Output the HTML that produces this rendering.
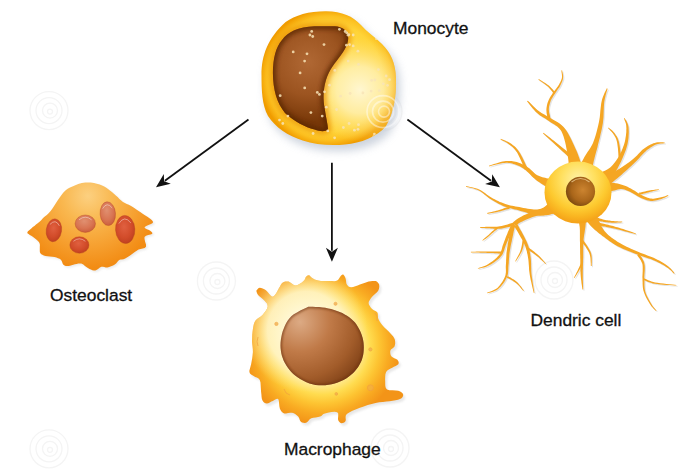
<!DOCTYPE html>
<html><head><meta charset="utf-8"><style>
html,body{margin:0;padding:0;background:#fff;}
body{width:687px;height:470px;overflow:hidden;position:relative;}
svg{position:absolute;left:0;top:0;}
.t{font-family:"Liberation Sans",sans-serif;font-size:17.4px;fill:#111;stroke:#111;stroke-width:0.3;}
</style></head><body>
<svg width="687" height="470" viewBox="0 0 687 470">
<defs>
<filter id="blur2" x="-20%" y="-20%" width="140%" height="140%"><feGaussianBlur stdDeviation="2"/></filter>
<filter id="blur1" x="-20%" y="-20%" width="140%" height="140%"><feGaussianBlur stdDeviation="1"/></filter>
<filter id="blur4" x="-30%" y="-30%" width="160%" height="160%"><feGaussianBlur stdDeviation="4"/></filter>
<radialGradient id="gMono" gradientUnits="userSpaceOnUse" cx="329" cy="78" r="69">
 <stop offset="0" stop-color="#ffe468"/><stop offset="0.78" stop-color="#ffd438"/><stop offset="0.9" stop-color="#fcc020"/><stop offset="0.97" stop-color="#f5a80a"/><stop offset="1" stop-color="#f09c00"/>
</radialGradient>
<radialGradient id="gMonoPale" gradientUnits="userSpaceOnUse" cx="360" cy="90" r="52">
 <stop offset="0" stop-color="#fff8d8" stop-opacity="0.95"/><stop offset="0.45" stop-color="#fff2b8" stop-opacity="0.8"/><stop offset="1" stop-color="#ffe070" stop-opacity="0"/>
</radialGradient>
<radialGradient id="gMonoNuc" gradientUnits="userSpaceOnUse" cx="308" cy="62" r="60">
 <stop offset="0" stop-color="#b06834"/><stop offset="0.55" stop-color="#9c5420"/><stop offset="1" stop-color="#783808"/>
</radialGradient>
<radialGradient id="gMac" gradientUnits="userSpaceOnUse" cx="322" cy="346" r="78">
 <stop offset="0.5" stop-color="#ffea90"/><stop offset="0.62" stop-color="#ffdc50"/><stop offset="0.74" stop-color="#fdc432"/><stop offset="0.86" stop-color="#f9ab22"/><stop offset="1" stop-color="#f39418"/>
</radialGradient>
<radialGradient id="gMacPale" gradientUnits="userSpaceOnUse" cx="306" cy="330" r="62">
 <stop offset="0" stop-color="#fffbe8" stop-opacity="1"/><stop offset="0.62" stop-color="#fff5c8" stop-opacity="0.9"/><stop offset="1" stop-color="#ffe890" stop-opacity="0"/>
</radialGradient>
<radialGradient id="gMacNuc" gradientUnits="userSpaceOnUse" cx="300" cy="322" r="75">
 <stop offset="0" stop-color="#dcaa84"/><stop offset="0.4" stop-color="#c07a48"/><stop offset="0.75" stop-color="#a25c2a"/><stop offset="1" stop-color="#7e4016"/>
</radialGradient>
<radialGradient id="gOst" gradientUnits="userSpaceOnUse" cx="88" cy="196" r="72">
 <stop offset="0" stop-color="#fcd080"/><stop offset="0.35" stop-color="#f9b850"/><stop offset="0.7" stop-color="#f6a030"/><stop offset="1" stop-color="#f28c14"/>
</radialGradient>
<radialGradient id="gOn" cx="0.45" cy="0.4" r="0.65">
 <stop offset="0" stop-color="#e06040"/><stop offset="0.6" stop-color="#d24c2a"/><stop offset="1" stop-color="#bc3e1e"/>
</radialGradient>
<radialGradient id="gOn2" cx="0.45" cy="0.35" r="0.7">
 <stop offset="0" stop-color="#e09070"/><stop offset="0.6" stop-color="#d87452"/><stop offset="1" stop-color="#c85a38"/>
</radialGradient>
<radialGradient id="gDc" gradientUnits="userSpaceOnUse" cx="578" cy="180" r="42">
 <stop offset="0" stop-color="#fff2a8"/><stop offset="0.4" stop-color="#ffe060"/><stop offset="0.7" stop-color="#fdca30"/><stop offset="0.88" stop-color="#f9b420"/><stop offset="1" stop-color="#f5a41a"/>
</radialGradient>
<radialGradient id="gDcNuc" cx="0.58" cy="0.45" r="0.65">
 <stop offset="0" stop-color="#cc8430"/><stop offset="0.6" stop-color="#aa661a"/><stop offset="1" stop-color="#70420c"/>
</radialGradient>
<clipPath id="cMonoNuc"><path d="M272.9,73 C273,58 276,47 282,40 C288,32 298,27 314.6,26.3 L335,26.3 C342,27 347,30 348,36 C349,42 346,48 341,55 C335,63 329,70 326,80 C323,90 323,100 324.8,109 C326,118 328,125 328,129.5 C325,132 320,131.5 314.6,129.5 C305,127 295,122 285,113 C277,103 273,90 272.9,73 Z"/></clipPath>
<clipPath id="cMono"><path d="M261.5,75 C261.5,55 268,38 285.6,22 C295,15 310,11 326.5,11.2 C342,11.5 353,16 361,25 C367,32 375,37 382,44 C391,53 395.5,63 396,78 C396.5,97 393.5,113 386,126 C377,137 361,143 345,144.5 C330,146 315,144.5 302.7,140.5 C288,136 275,127 268,116 C262,105 261.5,90 261.5,75 Z"/></clipPath>
<clipPath id="cMacNuc"><path d="M308.3,306.7 L310.1,306.8 L312.7,306.8 L315.7,306.9 L319.0,307.1 L322.3,307.4 L325.3,307.8 L328.2,308.4 L331.1,309.1 L334.1,309.9 L337.0,310.9 L339.7,311.9 L342.3,313.1 L344.7,314.4 L347.0,315.8 L349.2,317.2 L351.3,318.9 L353.2,320.7 L355.0,322.6 L356.6,324.8 L358.1,327.2 L359.5,329.7 L360.7,332.3 L361.7,335.0 L362.5,337.5 L363.1,340.0 L363.5,342.5 L363.7,345.1 L363.8,347.6 L363.7,350.0 L363.5,352.4 L363.2,354.7 L362.7,356.8 L362.1,358.9 L361.4,361.0 L360.4,363.1 L359.3,365.1 L358.0,367.2 L356.4,369.2 L354.8,371.3 L352.9,373.2 L350.8,375.1 L348.6,376.8 L346.2,378.4 L343.5,379.9 L340.6,381.3 L337.7,382.5 L334.6,383.5 L331.6,384.3 L328.5,384.8 L325.3,385.2 L322.1,385.3 L318.8,385.2 L315.6,384.9 L312.5,384.3 L309.5,383.4 L306.4,382.3 L303.5,380.8 L300.6,379.3 L297.9,377.6 L295.5,375.8 L293.3,373.9 L291.3,371.9 L289.4,369.8 L287.7,367.6 L286.2,365.3 L284.9,363.0 L283.7,360.7 L282.8,358.3 L281.9,355.8 L281.3,353.3 L280.9,350.7 L280.6,348.1 L280.5,345.4 L280.6,342.5 L280.9,339.6 L281.4,336.7 L282.0,333.8 L282.8,331.1 L283.8,328.4 L284.9,325.8 L286.1,323.2 L287.6,320.8 L289.3,318.4 L291.3,316.3 L293.8,314.3 L297.0,312.4 L300.3,310.6 L303.6,309.0 L306.4,307.7 L308.3,306.7Z"/></clipPath>
</defs>
<g fill="none" stroke="#f4f4f4" stroke-width="1.3"><circle cx="49" cy="110.6" r="19"/><circle cx="49" cy="110.6" r="13"/><circle cx="50" cy="110.6" r="7.5"/><circle cx="50" cy="111.6" r="2.5"/></g><g fill="none" stroke="#f4f4f4" stroke-width="1.3"><circle cx="216.4" cy="281" r="19"/><circle cx="216.4" cy="281" r="13"/><circle cx="217.4" cy="281" r="7.5"/><circle cx="217.4" cy="282" r="2.5"/></g><g fill="none" stroke="#f4f4f4" stroke-width="1.3"><circle cx="49" cy="448.8" r="19"/><circle cx="49" cy="448.8" r="13"/><circle cx="50" cy="448.8" r="7.5"/><circle cx="50" cy="449.8" r="2.5"/></g><g fill="none" stroke="#f4f4f4" stroke-width="1.3"><circle cx="383" cy="111.6" r="19"/><circle cx="383" cy="111.6" r="13"/><circle cx="384" cy="111.6" r="7.5"/><circle cx="384" cy="112.6" r="2.5"/></g><g fill="none" stroke="#f4f4f4" stroke-width="1.3"><circle cx="554" cy="280" r="19"/><circle cx="554" cy="280" r="13"/><circle cx="555" cy="280" r="7.5"/><circle cx="555" cy="281" r="2.5"/></g><g fill="none" stroke="#f4f4f4" stroke-width="1.3"><circle cx="390" cy="448" r="19"/><circle cx="390" cy="448" r="13"/><circle cx="391" cy="448" r="7.5"/><circle cx="391" cy="449" r="2.5"/></g>
<line x1="248.5" y1="119.6" x2="164.9" y2="180.7" stroke="#111" stroke-width="1.8"/><path d="M156,187.2 L163.8,174.1 L164.1,181.3 L170.8,183.8Z" fill="#111"/><line x1="331.9" y1="162.8" x2="331.9" y2="250.8" stroke="#111" stroke-width="1.8"/><path d="M331.9,261.8 L325.9,247.8 L331.9,251.8 L337.9,247.8Z" fill="#111"/><line x1="407.4" y1="119.4" x2="491.0" y2="180.8" stroke="#111" stroke-width="1.8"/><path d="M499.9,187.3 L485.1,183.9 L491.8,181.4 L492.2,174.2Z" fill="#111"/>
<!-- osteoclast -->
<path d="M27.7,231.6 L28.6,230.8 L29.8,229.7 L31.3,228.4 L32.8,227.1 L34.4,225.9 L36.0,224.5 L37.7,223.2 L39.2,222.0 L40.4,220.9 L41.4,219.9 L42.4,218.8 L43.6,217.6 L45.1,216.3 L46.8,214.9 L48.6,213.2 L50.6,211.0 L52.8,207.9 L55.2,204.2 L57.6,200.5 L59.7,197.4 L61.5,195.0 L63.0,193.1 L64.4,191.5 L66.0,190.0 L67.7,188.8 L69.5,187.8 L71.2,187.0 L73.0,186.2 L74.7,185.4 L76.5,184.7 L78.2,184.0 L80.0,183.5 L81.8,183.1 L83.6,182.8 L85.4,182.6 L87.2,182.5 L88.9,182.5 L90.6,182.5 L92.3,182.7 L94.0,183.0 L95.8,183.4 L97.8,183.9 L99.7,184.5 L101.5,185.2 L103.2,186.0 L104.7,186.8 L106.3,187.8 L108.0,189.0 L109.9,190.4 L111.9,192.0 L113.9,193.7 L115.8,195.4 L117.6,197.1 L119.4,198.9 L121.2,200.5 L123.0,202.0 L124.9,203.1 L126.8,203.9 L128.8,204.8 L131.1,206.0 L133.9,207.8 L137.1,209.9 L140.2,212.0 L143.0,213.9 L145.3,215.4 L147.4,216.8 L149.1,218.0 L150.5,219.1 L151.7,220.1 L152.6,221.0 L153.0,221.9 L152.7,222.9 L151.0,224.0 L148.4,225.1 L145.8,226.2 L144.5,227.3 L145.1,228.3 L146.9,229.2 L149.0,230.1 L150.5,231.0 L151.4,231.8 L152.1,232.5 L152.4,233.3 L152.0,234.0 L150.5,234.6 L148.2,235.1 L146.0,235.8 L144.5,237.0 L144.5,239.1 L145.2,241.9 L146.0,244.6 L146.0,246.7 L144.7,247.9 L142.7,248.6 L140.5,249.0 L138.6,249.6 L137.4,250.3 L136.4,250.9 L135.5,251.6 L134.1,252.6 L132.1,254.0 L129.7,255.7 L127.3,257.3 L125.2,258.6 L123.5,259.2 L121.9,259.5 L120.5,259.6 L119.2,260.1 L118.1,261.0 L117.1,262.2 L116.1,263.4 L114.8,264.5 L113.1,265.4 L111.1,266.3 L109.1,267.0 L107.3,267.5 L105.7,267.5 L104.3,267.1 L102.8,266.8 L101.4,266.8 L99.9,267.5 L98.4,268.7 L96.9,269.8 L95.4,270.5 L93.9,270.5 L92.4,270.2 L90.9,269.6 L89.5,269.0 L88.3,268.3 L87.1,267.6 L86.0,266.8 L85.0,266.0 L84.1,265.3 L83.3,264.5 L82.4,263.9 L81.3,263.5 L79.9,263.4 L78.3,263.6 L76.6,263.9 L74.9,264.2 L73.3,264.7 L71.6,265.3 L70.0,265.8 L68.5,266.1 L67.1,266.1 L65.7,265.9 L64.5,265.5 L63.4,264.8 L62.7,263.7 L62.2,262.3 L61.7,260.9 L60.9,259.7 L59.6,258.8 L58.1,258.2 L56.4,257.6 L54.5,257.1 L52.3,256.7 L49.9,256.5 L47.5,256.3 L45.5,255.9 L43.8,255.4 L42.4,254.8 L41.3,254.2 L40.4,253.3 L39.9,252.2 L39.8,250.9 L39.8,249.6 L39.8,248.2 L39.8,246.8 L39.9,245.4 L39.8,243.9 L39.2,242.5 L38.0,241.0 L36.3,239.4 L34.4,238.0 L32.8,236.7 L31.3,235.7 L29.8,234.9 L28.6,234.1 L27.7,233.5 L27.3,232.9 L27.4,232.3 L27.6,231.9 L27.7,231.6Z" fill="#ddd" transform="translate(1.5,1.5)" filter="url(#blur1)" opacity="0.6"/>
<path d="M27.7,231.6 L28.6,230.8 L29.8,229.7 L31.3,228.4 L32.8,227.1 L34.4,225.9 L36.0,224.5 L37.7,223.2 L39.2,222.0 L40.4,220.9 L41.4,219.9 L42.4,218.8 L43.6,217.6 L45.1,216.3 L46.8,214.9 L48.6,213.2 L50.6,211.0 L52.8,207.9 L55.2,204.2 L57.6,200.5 L59.7,197.4 L61.5,195.0 L63.0,193.1 L64.4,191.5 L66.0,190.0 L67.7,188.8 L69.5,187.8 L71.2,187.0 L73.0,186.2 L74.7,185.4 L76.5,184.7 L78.2,184.0 L80.0,183.5 L81.8,183.1 L83.6,182.8 L85.4,182.6 L87.2,182.5 L88.9,182.5 L90.6,182.5 L92.3,182.7 L94.0,183.0 L95.8,183.4 L97.8,183.9 L99.7,184.5 L101.5,185.2 L103.2,186.0 L104.7,186.8 L106.3,187.8 L108.0,189.0 L109.9,190.4 L111.9,192.0 L113.9,193.7 L115.8,195.4 L117.6,197.1 L119.4,198.9 L121.2,200.5 L123.0,202.0 L124.9,203.1 L126.8,203.9 L128.8,204.8 L131.1,206.0 L133.9,207.8 L137.1,209.9 L140.2,212.0 L143.0,213.9 L145.3,215.4 L147.4,216.8 L149.1,218.0 L150.5,219.1 L151.7,220.1 L152.6,221.0 L153.0,221.9 L152.7,222.9 L151.0,224.0 L148.4,225.1 L145.8,226.2 L144.5,227.3 L145.1,228.3 L146.9,229.2 L149.0,230.1 L150.5,231.0 L151.4,231.8 L152.1,232.5 L152.4,233.3 L152.0,234.0 L150.5,234.6 L148.2,235.1 L146.0,235.8 L144.5,237.0 L144.5,239.1 L145.2,241.9 L146.0,244.6 L146.0,246.7 L144.7,247.9 L142.7,248.6 L140.5,249.0 L138.6,249.6 L137.4,250.3 L136.4,250.9 L135.5,251.6 L134.1,252.6 L132.1,254.0 L129.7,255.7 L127.3,257.3 L125.2,258.6 L123.5,259.2 L121.9,259.5 L120.5,259.6 L119.2,260.1 L118.1,261.0 L117.1,262.2 L116.1,263.4 L114.8,264.5 L113.1,265.4 L111.1,266.3 L109.1,267.0 L107.3,267.5 L105.7,267.5 L104.3,267.1 L102.8,266.8 L101.4,266.8 L99.9,267.5 L98.4,268.7 L96.9,269.8 L95.4,270.5 L93.9,270.5 L92.4,270.2 L90.9,269.6 L89.5,269.0 L88.3,268.3 L87.1,267.6 L86.0,266.8 L85.0,266.0 L84.1,265.3 L83.3,264.5 L82.4,263.9 L81.3,263.5 L79.9,263.4 L78.3,263.6 L76.6,263.9 L74.9,264.2 L73.3,264.7 L71.6,265.3 L70.0,265.8 L68.5,266.1 L67.1,266.1 L65.7,265.9 L64.5,265.5 L63.4,264.8 L62.7,263.7 L62.2,262.3 L61.7,260.9 L60.9,259.7 L59.6,258.8 L58.1,258.2 L56.4,257.6 L54.5,257.1 L52.3,256.7 L49.9,256.5 L47.5,256.3 L45.5,255.9 L43.8,255.4 L42.4,254.8 L41.3,254.2 L40.4,253.3 L39.9,252.2 L39.8,250.9 L39.8,249.6 L39.8,248.2 L39.8,246.8 L39.9,245.4 L39.8,243.9 L39.2,242.5 L38.0,241.0 L36.3,239.4 L34.4,238.0 L32.8,236.7 L31.3,235.7 L29.8,234.9 L28.6,234.1 L27.7,233.5 L27.3,232.9 L27.4,232.3 L27.6,231.9 L27.7,231.6Z" fill="url(#gOst)"/>
<ellipse cx="53.9" cy="230.3" rx="7.7" ry="11.5" transform="rotate(8 53.9 230.3)" fill="url(#gOn)" stroke="#b04020" stroke-width="0.7" stroke-opacity="0.5"/><ellipse cx="85.3" cy="223.7" rx="10.2" ry="8.7" transform="rotate(0 85.3 223.7)" fill="url(#gOn2)" stroke="#b04020" stroke-width="0.7" stroke-opacity="0.5"/><ellipse cx="107.8" cy="213.7" rx="7.7" ry="11.9" transform="rotate(-4 107.8 213.7)" fill="url(#gOn2)" stroke="#b04020" stroke-width="0.7" stroke-opacity="0.5"/><ellipse cx="125.2" cy="229.5" rx="9.7" ry="14.1" transform="rotate(-3 125.2 229.5)" fill="url(#gOn)" stroke="#b04020" stroke-width="0.7" stroke-opacity="0.5"/><ellipse cx="79.4" cy="245.0" rx="9.6" ry="8.3" transform="rotate(0 79.4 245.0)" fill="url(#gOn)" stroke="#b04020" stroke-width="0.7" stroke-opacity="0.5"/>
<g><path d="M49.1,225.1 Q53.9,218.2 58.7,225.1" fill="none" stroke="#fff" stroke-width="0.9" opacity="0.45" transform="rotate(8 53.9 230.3)"/><path d="M79.0,219.8 Q85.3,214.6 91.6,219.8" fill="none" stroke="#fff" stroke-width="0.9" opacity="0.45" transform="rotate(0 85.3 223.7)"/><path d="M103.0,208.3 Q107.8,201.2 112.6,208.3" fill="none" stroke="#fff" stroke-width="0.9" opacity="0.45" transform="rotate(-4 107.8 213.7)"/><path d="M119.2,223.2 Q125.2,214.7 131.2,223.2" fill="none" stroke="#fff" stroke-width="0.9" opacity="0.45" transform="rotate(-3 125.2 229.5)"/><path d="M73.4,241.3 Q79.4,236.3 85.4,241.3" fill="none" stroke="#fff" stroke-width="0.9" opacity="0.45" transform="rotate(0 79.4 245.0)"/></g>
<!-- monocyte -->
<path d="M261.5,75 C261.5,55 268,38 285.6,22 C295,15 310,11 326.5,11.2 C342,11.5 353,16 361,25 C367,32 375,37 382,44 C391,53 395.5,63 396,78 C396.5,97 393.5,113 386,126 C377,137 361,143 345,144.5 C330,146 315,144.5 302.7,140.5 C288,136 275,127 268,116 C262,105 261.5,90 261.5,75 Z" fill="#c4ccd8" transform="translate(4,6)" filter="url(#blur4)" opacity="0.85"/>
<path d="M261.5,75 C261.5,55 268,38 285.6,22 C295,15 310,11 326.5,11.2 C342,11.5 353,16 361,25 C367,32 375,37 382,44 C391,53 395.5,63 396,78 C396.5,97 393.5,113 386,126 C377,137 361,143 345,144.5 C330,146 315,144.5 302.7,140.5 C288,136 275,127 268,116 C262,105 261.5,90 261.5,75 Z" fill="url(#gMono)"/>
<path d="M261.5,75 C261.5,55 268,38 285.6,22 C295,15 310,11 326.5,11.2 C342,11.5 353,16 361,25 C367,32 375,37 382,44 C391,53 395.5,63 396,78 C396.5,97 393.5,113 386,126 C377,137 361,143 345,144.5 C330,146 315,144.5 302.7,140.5 C288,136 275,127 268,116 C262,105 261.5,90 261.5,75 Z" fill="url(#gMonoPale)"/>
<g clip-path="url(#cMono)"><path d="M272.9,73 C273,58 276,47 282,40 C288,32 298,27 314.6,26.3 L335,26.3 C342,27 347,30 348,36 C349,42 346,48 341,55 C335,63 329,70 326,80 C323,90 323,100 324.8,109 C326,118 328,125 328,129.5 C325,132 320,131.5 314.6,129.5 C305,127 295,122 285,113 C277,103 273,90 272.9,73 Z" fill="none" stroke="#e88a00" stroke-width="7" filter="url(#blur2)" opacity="0.6"/></g>
<path d="M272.9,73 C273,58 276,47 282,40 C288,32 298,27 314.6,26.3 L335,26.3 C342,27 347,30 348,36 C349,42 346,48 341,55 C335,63 329,70 326,80 C323,90 323,100 324.8,109 C326,118 328,125 328,129.5 C325,132 320,131.5 314.6,129.5 C305,127 295,122 285,113 C277,103 273,90 272.9,73 Z" fill="url(#gMonoNuc)"/>
<g clip-path="url(#cMonoNuc)"><path d="M272.9,73 C273,58 276,47 282,40 C288,32 298,27 314.6,26.3 L335,26.3 C342,27 347,30 348,36 C349,42 346,48 341,55 C335,63 329,70 326,80 C323,90 323,100 324.8,109 C326,118 328,125 328,129.5 C325,132 320,131.5 314.6,129.5 C305,127 295,122 285,113 C277,103 273,90 272.9,73 Z" fill="none" stroke="#5a2806" stroke-width="6" filter="url(#blur2)" opacity="0.8"/></g>
<g fill="#f8e4b8" opacity="0.85" clip-path="url(#cMono)"><circle cx="304.7" cy="87.9" r="1.4"/><circle cx="319.4" cy="94.4" r="1.4"/><circle cx="348.1" cy="35.2" r="1.4"/><circle cx="279.5" cy="120.1" r="1.4"/><circle cx="307.0" cy="53.8" r="1.4"/><circle cx="389.5" cy="79.7" r="1.4"/><circle cx="371.7" cy="80.4" r="1.4"/><circle cx="349.6" cy="44.6" r="1.4"/><circle cx="349.1" cy="123.5" r="1.4"/><circle cx="336.6" cy="109.5" r="1.4"/><circle cx="353.2" cy="35.0" r="1.4"/><circle cx="362.9" cy="93.0" r="1.4"/><circle cx="311.7" cy="31.4" r="1.4"/><circle cx="374.9" cy="80.0" r="1.4"/><circle cx="358.5" cy="124.7" r="1.4"/><circle cx="358.0" cy="129.3" r="1.4"/><circle cx="322.2" cy="116.1" r="1.4"/><circle cx="327.8" cy="130.9" r="1.4"/><circle cx="376.4" cy="38.7" r="1.4"/><circle cx="293.2" cy="51.9" r="1.4"/><circle cx="386.1" cy="76.0" r="1.4"/><circle cx="348.2" cy="61.1" r="1.4"/><circle cx="334.8" cy="70.4" r="1.4"/><circle cx="317.3" cy="92.4" r="1.4"/><circle cx="343.4" cy="127.5" r="1.4"/><circle cx="354.4" cy="130.2" r="1.4"/><circle cx="373.9" cy="137.0" r="1.4"/><circle cx="353.2" cy="45.9" r="1.4"/><circle cx="374.4" cy="134.1" r="1.4"/><circle cx="379.3" cy="90.6" r="1.4"/><circle cx="357.9" cy="51.2" r="1.4"/><circle cx="371.1" cy="91.1" r="1.4"/><circle cx="309.9" cy="35.0" r="1.4"/><circle cx="373.6" cy="136.9" r="1.4"/><circle cx="287.9" cy="116.1" r="1.4"/><circle cx="324.0" cy="44.6" r="1.4"/><circle cx="310.9" cy="112.6" r="1.4"/><circle cx="375.7" cy="32.9" r="1.4"/><circle cx="346.8" cy="32.9" r="1.4"/><circle cx="358.5" cy="64.4" r="1.4"/><circle cx="376.7" cy="135.9" r="1.4"/><circle cx="334.6" cy="137.8" r="1.4"/><circle cx="312.7" cy="36.5" r="1.4"/><circle cx="345.2" cy="31.5" r="1.4"/><circle cx="300.1" cy="72.9" r="1.4"/><circle cx="346.4" cy="45.2" r="1.4"/><circle cx="282.8" cy="123.5" r="1.4"/><circle cx="313.1" cy="133.5" r="1.4"/><circle cx="378.4" cy="69.6" r="1.4"/><circle cx="329.6" cy="85.2" r="1.4"/><circle cx="350.1" cy="93.5" r="1.4"/><circle cx="340.6" cy="96.2" r="1.4"/><circle cx="383.3" cy="83.8" r="1.4"/><circle cx="326.3" cy="107.2" r="1.4"/><circle cx="304.6" cy="61.1" r="1.4"/><circle cx="387.5" cy="85.3" r="1.4"/><circle cx="339.4" cy="29.3" r="1.4"/><circle cx="324.5" cy="91.8" r="1.4"/><circle cx="280.2" cy="95.7" r="1.4"/><circle cx="348.8" cy="34.6" r="1.4"/></g>
<!-- macrophage -->
<path d="M256.3,290.7 L256.9,290.0 L257.7,289.0 L258.7,288.1 L259.8,287.7 L261.1,287.9 L262.6,288.4 L264.3,289.2 L265.9,290.3 L267.6,292.0 L269.4,294.3 L271.2,296.2 L272.9,296.8 L274.5,295.6 L276.2,293.2 L277.7,290.4 L279.0,288.1 L280.0,286.4 L280.7,285.0 L281.5,283.8 L282.5,282.8 L283.8,282.1 L285.3,281.6 L287.0,281.4 L288.6,281.6 L290.3,282.4 L292.0,283.8 L293.8,285.0 L295.6,285.5 L297.6,285.0 L299.8,283.8 L301.9,282.4 L303.5,281.1 L304.5,279.9 L305.1,278.7 L305.5,277.6 L306.1,276.7 L306.8,276.0 L307.6,275.6 L308.4,275.3 L309.2,275.3 L309.9,275.7 L310.5,276.5 L311.2,277.3 L312.2,278.1 L313.4,278.8 L314.7,279.5 L316.3,280.1 L318.3,280.6 L320.9,280.9 L324.1,281.0 L327.3,281.1 L330.0,281.1 L332.2,281.1 L334.1,281.2 L335.8,281.0 L337.2,280.6 L338.4,279.6 L339.2,278.3 L340.0,276.9 L340.7,275.9 L341.4,275.2 L342.1,274.7 L342.7,274.5 L343.3,274.6 L343.9,275.2 L344.5,276.1 L345.1,277.2 L345.6,278.5 L345.9,280.0 L346.1,281.6 L346.3,283.3 L346.8,284.6 L347.6,285.6 L348.5,286.4 L349.7,287.0 L351.2,287.2 L353.1,286.9 L355.3,286.2 L357.6,285.4 L359.9,284.6 L362.1,283.8 L364.4,283.0 L366.5,282.2 L368.6,281.6 L370.6,281.2 L372.4,280.9 L374.1,280.9 L375.6,281.1 L376.8,281.6 L377.8,282.4 L378.6,283.4 L379.1,284.6 L379.3,285.9 L379.2,287.5 L378.9,289.1 L378.2,290.7 L377.0,292.2 L375.3,293.8 L373.6,295.3 L372.1,296.8 L370.9,298.3 L369.8,299.9 L368.9,301.4 L368.6,302.9 L368.9,304.5 L369.8,306.1 L370.9,307.7 L372.1,309.0 L373.4,310.0 L374.9,310.7 L376.3,311.5 L377.4,312.5 L377.8,313.8 L377.9,315.3 L377.9,317.0 L378.2,318.6 L379.0,320.3 L380.0,322.0 L381.2,323.8 L382.6,325.6 L384.4,327.6 L386.6,329.6 L388.7,331.6 L390.5,333.5 L391.9,335.1 L393.2,336.6 L394.1,338.1 L394.8,339.6 L395.1,341.3 L395.2,343.2 L394.9,345.0 L394.5,346.5 L393.6,347.6 L392.4,348.4 L391.2,349.2 L390.5,350.2 L390.2,351.6 L390.3,353.3 L390.6,354.9 L391.3,356.3 L392.6,357.3 L394.3,358.2 L396.1,358.9 L397.4,359.8 L398.2,360.9 L398.6,362.0 L398.7,363.1 L398.3,364.2 L397.3,365.1 L395.7,365.9 L393.9,366.8 L392.2,367.7 L390.6,368.6 L388.8,369.5 L387.3,370.6 L386.1,372.1 L385.4,374.2 L385.2,376.7 L385.1,379.3 L385.2,381.7 L385.2,383.9 L385.3,386.1 L385.8,388.1 L387.0,389.5 L389.3,390.2 L392.5,390.3 L395.7,390.4 L398.3,390.7 L400.2,391.5 L401.7,392.5 L402.7,393.6 L403.2,394.7 L403.1,395.8 L402.6,397.0 L401.5,398.2 L400.0,399.1 L398.0,399.8 L395.5,400.3 L392.6,400.8 L389.6,401.2 L386.4,401.6 L382.9,401.9 L379.3,402.3 L375.6,403.0 L371.7,404.0 L367.7,405.1 L363.7,406.4 L359.9,407.8 L356.2,409.2 L352.4,410.8 L349.2,412.4 L346.8,414.0 L345.7,415.8 L345.6,417.7 L345.8,419.5 L345.6,420.9 L344.8,421.9 L343.7,422.7 L342.6,423.1 L341.6,423.2 L340.6,422.9 L339.7,422.3 L338.8,421.3 L338.1,420.1 L338.0,418.2 L338.2,415.9 L338.2,413.6 L337.2,412.2 L334.8,411.8 L331.3,412.1 L327.8,412.7 L325.0,413.4 L323.4,414.1 L322.3,415.0 L321.4,415.9 L320.1,416.6 L318.1,417.1 L315.7,417.4 L313.3,417.7 L311.3,418.3 L309.7,419.3 L308.5,420.7 L307.3,421.9 L306.1,422.7 L304.7,422.9 L303.3,422.8 L302.0,422.5 L300.9,421.8 L300.1,420.8 L299.6,419.4 L299.1,417.9 L298.2,416.6 L297.0,415.4 L295.5,414.3 L293.8,413.3 L292.1,412.7 L290.2,412.7 L288.1,413.1 L286.1,413.5 L284.3,413.4 L282.9,412.7 L281.7,411.7 L280.7,410.3 L279.9,408.7 L279.4,406.4 L279.1,403.5 L278.8,400.8 L278.2,399.1 L277.1,398.7 L275.8,399.2 L274.4,400.1 L272.9,400.9 L271.4,401.6 L269.8,402.5 L268.2,403.2 L266.8,403.5 L265.5,403.3 L264.4,402.7 L263.3,401.8 L262.5,400.5 L261.9,398.9 L261.6,396.9 L261.4,394.6 L261.1,392.1 L260.9,389.1 L260.7,385.7 L260.5,382.4 L259.8,379.9 L258.6,378.4 L256.9,377.5 L255.2,376.9 L253.7,376.1 L252.4,375.2 L251.1,374.4 L250.0,373.4 L249.4,372.1 L249.4,370.5 L249.9,368.7 L250.5,366.6 L251.1,364.2 L251.6,361.4 L252.2,358.3 L252.6,355.0 L252.9,352.0 L252.8,349.3 L252.5,346.6 L252.2,344.0 L252.0,341.3 L252.1,338.3 L252.2,335.1 L252.5,331.9 L252.9,329.1 L253.3,326.6 L253.8,324.3 L254.5,322.3 L255.5,320.4 L257.0,318.9 L258.8,317.8 L260.8,316.6 L262.5,315.1 L264.1,313.1 L265.8,310.8 L267.1,308.5 L267.7,306.4 L267.5,304.7 L266.7,303.1 L265.5,301.7 L264.2,300.3 L262.8,298.9 L261.0,297.6 L259.4,296.3 L258.1,295.1 L257.3,293.8 L256.8,292.6 L256.5,291.5 L256.3,290.7Z" fill="#d8d8d8" transform="translate(2,2.5)" filter="url(#blur1)" opacity="0.6"/>
<path d="M256.3,290.7 L256.9,290.0 L257.7,289.0 L258.7,288.1 L259.8,287.7 L261.1,287.9 L262.6,288.4 L264.3,289.2 L265.9,290.3 L267.6,292.0 L269.4,294.3 L271.2,296.2 L272.9,296.8 L274.5,295.6 L276.2,293.2 L277.7,290.4 L279.0,288.1 L280.0,286.4 L280.7,285.0 L281.5,283.8 L282.5,282.8 L283.8,282.1 L285.3,281.6 L287.0,281.4 L288.6,281.6 L290.3,282.4 L292.0,283.8 L293.8,285.0 L295.6,285.5 L297.6,285.0 L299.8,283.8 L301.9,282.4 L303.5,281.1 L304.5,279.9 L305.1,278.7 L305.5,277.6 L306.1,276.7 L306.8,276.0 L307.6,275.6 L308.4,275.3 L309.2,275.3 L309.9,275.7 L310.5,276.5 L311.2,277.3 L312.2,278.1 L313.4,278.8 L314.7,279.5 L316.3,280.1 L318.3,280.6 L320.9,280.9 L324.1,281.0 L327.3,281.1 L330.0,281.1 L332.2,281.1 L334.1,281.2 L335.8,281.0 L337.2,280.6 L338.4,279.6 L339.2,278.3 L340.0,276.9 L340.7,275.9 L341.4,275.2 L342.1,274.7 L342.7,274.5 L343.3,274.6 L343.9,275.2 L344.5,276.1 L345.1,277.2 L345.6,278.5 L345.9,280.0 L346.1,281.6 L346.3,283.3 L346.8,284.6 L347.6,285.6 L348.5,286.4 L349.7,287.0 L351.2,287.2 L353.1,286.9 L355.3,286.2 L357.6,285.4 L359.9,284.6 L362.1,283.8 L364.4,283.0 L366.5,282.2 L368.6,281.6 L370.6,281.2 L372.4,280.9 L374.1,280.9 L375.6,281.1 L376.8,281.6 L377.8,282.4 L378.6,283.4 L379.1,284.6 L379.3,285.9 L379.2,287.5 L378.9,289.1 L378.2,290.7 L377.0,292.2 L375.3,293.8 L373.6,295.3 L372.1,296.8 L370.9,298.3 L369.8,299.9 L368.9,301.4 L368.6,302.9 L368.9,304.5 L369.8,306.1 L370.9,307.7 L372.1,309.0 L373.4,310.0 L374.9,310.7 L376.3,311.5 L377.4,312.5 L377.8,313.8 L377.9,315.3 L377.9,317.0 L378.2,318.6 L379.0,320.3 L380.0,322.0 L381.2,323.8 L382.6,325.6 L384.4,327.6 L386.6,329.6 L388.7,331.6 L390.5,333.5 L391.9,335.1 L393.2,336.6 L394.1,338.1 L394.8,339.6 L395.1,341.3 L395.2,343.2 L394.9,345.0 L394.5,346.5 L393.6,347.6 L392.4,348.4 L391.2,349.2 L390.5,350.2 L390.2,351.6 L390.3,353.3 L390.6,354.9 L391.3,356.3 L392.6,357.3 L394.3,358.2 L396.1,358.9 L397.4,359.8 L398.2,360.9 L398.6,362.0 L398.7,363.1 L398.3,364.2 L397.3,365.1 L395.7,365.9 L393.9,366.8 L392.2,367.7 L390.6,368.6 L388.8,369.5 L387.3,370.6 L386.1,372.1 L385.4,374.2 L385.2,376.7 L385.1,379.3 L385.2,381.7 L385.2,383.9 L385.3,386.1 L385.8,388.1 L387.0,389.5 L389.3,390.2 L392.5,390.3 L395.7,390.4 L398.3,390.7 L400.2,391.5 L401.7,392.5 L402.7,393.6 L403.2,394.7 L403.1,395.8 L402.6,397.0 L401.5,398.2 L400.0,399.1 L398.0,399.8 L395.5,400.3 L392.6,400.8 L389.6,401.2 L386.4,401.6 L382.9,401.9 L379.3,402.3 L375.6,403.0 L371.7,404.0 L367.7,405.1 L363.7,406.4 L359.9,407.8 L356.2,409.2 L352.4,410.8 L349.2,412.4 L346.8,414.0 L345.7,415.8 L345.6,417.7 L345.8,419.5 L345.6,420.9 L344.8,421.9 L343.7,422.7 L342.6,423.1 L341.6,423.2 L340.6,422.9 L339.7,422.3 L338.8,421.3 L338.1,420.1 L338.0,418.2 L338.2,415.9 L338.2,413.6 L337.2,412.2 L334.8,411.8 L331.3,412.1 L327.8,412.7 L325.0,413.4 L323.4,414.1 L322.3,415.0 L321.4,415.9 L320.1,416.6 L318.1,417.1 L315.7,417.4 L313.3,417.7 L311.3,418.3 L309.7,419.3 L308.5,420.7 L307.3,421.9 L306.1,422.7 L304.7,422.9 L303.3,422.8 L302.0,422.5 L300.9,421.8 L300.1,420.8 L299.6,419.4 L299.1,417.9 L298.2,416.6 L297.0,415.4 L295.5,414.3 L293.8,413.3 L292.1,412.7 L290.2,412.7 L288.1,413.1 L286.1,413.5 L284.3,413.4 L282.9,412.7 L281.7,411.7 L280.7,410.3 L279.9,408.7 L279.4,406.4 L279.1,403.5 L278.8,400.8 L278.2,399.1 L277.1,398.7 L275.8,399.2 L274.4,400.1 L272.9,400.9 L271.4,401.6 L269.8,402.5 L268.2,403.2 L266.8,403.5 L265.5,403.3 L264.4,402.7 L263.3,401.8 L262.5,400.5 L261.9,398.9 L261.6,396.9 L261.4,394.6 L261.1,392.1 L260.9,389.1 L260.7,385.7 L260.5,382.4 L259.8,379.9 L258.6,378.4 L256.9,377.5 L255.2,376.9 L253.7,376.1 L252.4,375.2 L251.1,374.4 L250.0,373.4 L249.4,372.1 L249.4,370.5 L249.9,368.7 L250.5,366.6 L251.1,364.2 L251.6,361.4 L252.2,358.3 L252.6,355.0 L252.9,352.0 L252.8,349.3 L252.5,346.6 L252.2,344.0 L252.0,341.3 L252.1,338.3 L252.2,335.1 L252.5,331.9 L252.9,329.1 L253.3,326.6 L253.8,324.3 L254.5,322.3 L255.5,320.4 L257.0,318.9 L258.8,317.8 L260.8,316.6 L262.5,315.1 L264.1,313.1 L265.8,310.8 L267.1,308.5 L267.7,306.4 L267.5,304.7 L266.7,303.1 L265.5,301.7 L264.2,300.3 L262.8,298.9 L261.0,297.6 L259.4,296.3 L258.1,295.1 L257.3,293.8 L256.8,292.6 L256.5,291.5 L256.3,290.7Z" fill="url(#gMac)"/>
<path d="M256.3,290.7 L256.9,290.0 L257.7,289.0 L258.7,288.1 L259.8,287.7 L261.1,287.9 L262.6,288.4 L264.3,289.2 L265.9,290.3 L267.6,292.0 L269.4,294.3 L271.2,296.2 L272.9,296.8 L274.5,295.6 L276.2,293.2 L277.7,290.4 L279.0,288.1 L280.0,286.4 L280.7,285.0 L281.5,283.8 L282.5,282.8 L283.8,282.1 L285.3,281.6 L287.0,281.4 L288.6,281.6 L290.3,282.4 L292.0,283.8 L293.8,285.0 L295.6,285.5 L297.6,285.0 L299.8,283.8 L301.9,282.4 L303.5,281.1 L304.5,279.9 L305.1,278.7 L305.5,277.6 L306.1,276.7 L306.8,276.0 L307.6,275.6 L308.4,275.3 L309.2,275.3 L309.9,275.7 L310.5,276.5 L311.2,277.3 L312.2,278.1 L313.4,278.8 L314.7,279.5 L316.3,280.1 L318.3,280.6 L320.9,280.9 L324.1,281.0 L327.3,281.1 L330.0,281.1 L332.2,281.1 L334.1,281.2 L335.8,281.0 L337.2,280.6 L338.4,279.6 L339.2,278.3 L340.0,276.9 L340.7,275.9 L341.4,275.2 L342.1,274.7 L342.7,274.5 L343.3,274.6 L343.9,275.2 L344.5,276.1 L345.1,277.2 L345.6,278.5 L345.9,280.0 L346.1,281.6 L346.3,283.3 L346.8,284.6 L347.6,285.6 L348.5,286.4 L349.7,287.0 L351.2,287.2 L353.1,286.9 L355.3,286.2 L357.6,285.4 L359.9,284.6 L362.1,283.8 L364.4,283.0 L366.5,282.2 L368.6,281.6 L370.6,281.2 L372.4,280.9 L374.1,280.9 L375.6,281.1 L376.8,281.6 L377.8,282.4 L378.6,283.4 L379.1,284.6 L379.3,285.9 L379.2,287.5 L378.9,289.1 L378.2,290.7 L377.0,292.2 L375.3,293.8 L373.6,295.3 L372.1,296.8 L370.9,298.3 L369.8,299.9 L368.9,301.4 L368.6,302.9 L368.9,304.5 L369.8,306.1 L370.9,307.7 L372.1,309.0 L373.4,310.0 L374.9,310.7 L376.3,311.5 L377.4,312.5 L377.8,313.8 L377.9,315.3 L377.9,317.0 L378.2,318.6 L379.0,320.3 L380.0,322.0 L381.2,323.8 L382.6,325.6 L384.4,327.6 L386.6,329.6 L388.7,331.6 L390.5,333.5 L391.9,335.1 L393.2,336.6 L394.1,338.1 L394.8,339.6 L395.1,341.3 L395.2,343.2 L394.9,345.0 L394.5,346.5 L393.6,347.6 L392.4,348.4 L391.2,349.2 L390.5,350.2 L390.2,351.6 L390.3,353.3 L390.6,354.9 L391.3,356.3 L392.6,357.3 L394.3,358.2 L396.1,358.9 L397.4,359.8 L398.2,360.9 L398.6,362.0 L398.7,363.1 L398.3,364.2 L397.3,365.1 L395.7,365.9 L393.9,366.8 L392.2,367.7 L390.6,368.6 L388.8,369.5 L387.3,370.6 L386.1,372.1 L385.4,374.2 L385.2,376.7 L385.1,379.3 L385.2,381.7 L385.2,383.9 L385.3,386.1 L385.8,388.1 L387.0,389.5 L389.3,390.2 L392.5,390.3 L395.7,390.4 L398.3,390.7 L400.2,391.5 L401.7,392.5 L402.7,393.6 L403.2,394.7 L403.1,395.8 L402.6,397.0 L401.5,398.2 L400.0,399.1 L398.0,399.8 L395.5,400.3 L392.6,400.8 L389.6,401.2 L386.4,401.6 L382.9,401.9 L379.3,402.3 L375.6,403.0 L371.7,404.0 L367.7,405.1 L363.7,406.4 L359.9,407.8 L356.2,409.2 L352.4,410.8 L349.2,412.4 L346.8,414.0 L345.7,415.8 L345.6,417.7 L345.8,419.5 L345.6,420.9 L344.8,421.9 L343.7,422.7 L342.6,423.1 L341.6,423.2 L340.6,422.9 L339.7,422.3 L338.8,421.3 L338.1,420.1 L338.0,418.2 L338.2,415.9 L338.2,413.6 L337.2,412.2 L334.8,411.8 L331.3,412.1 L327.8,412.7 L325.0,413.4 L323.4,414.1 L322.3,415.0 L321.4,415.9 L320.1,416.6 L318.1,417.1 L315.7,417.4 L313.3,417.7 L311.3,418.3 L309.7,419.3 L308.5,420.7 L307.3,421.9 L306.1,422.7 L304.7,422.9 L303.3,422.8 L302.0,422.5 L300.9,421.8 L300.1,420.8 L299.6,419.4 L299.1,417.9 L298.2,416.6 L297.0,415.4 L295.5,414.3 L293.8,413.3 L292.1,412.7 L290.2,412.7 L288.1,413.1 L286.1,413.5 L284.3,413.4 L282.9,412.7 L281.7,411.7 L280.7,410.3 L279.9,408.7 L279.4,406.4 L279.1,403.5 L278.8,400.8 L278.2,399.1 L277.1,398.7 L275.8,399.2 L274.4,400.1 L272.9,400.9 L271.4,401.6 L269.8,402.5 L268.2,403.2 L266.8,403.5 L265.5,403.3 L264.4,402.7 L263.3,401.8 L262.5,400.5 L261.9,398.9 L261.6,396.9 L261.4,394.6 L261.1,392.1 L260.9,389.1 L260.7,385.7 L260.5,382.4 L259.8,379.9 L258.6,378.4 L256.9,377.5 L255.2,376.9 L253.7,376.1 L252.4,375.2 L251.1,374.4 L250.0,373.4 L249.4,372.1 L249.4,370.5 L249.9,368.7 L250.5,366.6 L251.1,364.2 L251.6,361.4 L252.2,358.3 L252.6,355.0 L252.9,352.0 L252.8,349.3 L252.5,346.6 L252.2,344.0 L252.0,341.3 L252.1,338.3 L252.2,335.1 L252.5,331.9 L252.9,329.1 L253.3,326.6 L253.8,324.3 L254.5,322.3 L255.5,320.4 L257.0,318.9 L258.8,317.8 L260.8,316.6 L262.5,315.1 L264.1,313.1 L265.8,310.8 L267.1,308.5 L267.7,306.4 L267.5,304.7 L266.7,303.1 L265.5,301.7 L264.2,300.3 L262.8,298.9 L261.0,297.6 L259.4,296.3 L258.1,295.1 L257.3,293.8 L256.8,292.6 L256.5,291.5 L256.3,290.7Z" fill="url(#gMacPale)"/>
<path d="M308.3,306.7 L310.1,306.8 L312.7,306.8 L315.7,306.9 L319.0,307.1 L322.3,307.4 L325.3,307.8 L328.2,308.4 L331.1,309.1 L334.1,309.9 L337.0,310.9 L339.7,311.9 L342.3,313.1 L344.7,314.4 L347.0,315.8 L349.2,317.2 L351.3,318.9 L353.2,320.7 L355.0,322.6 L356.6,324.8 L358.1,327.2 L359.5,329.7 L360.7,332.3 L361.7,335.0 L362.5,337.5 L363.1,340.0 L363.5,342.5 L363.7,345.1 L363.8,347.6 L363.7,350.0 L363.5,352.4 L363.2,354.7 L362.7,356.8 L362.1,358.9 L361.4,361.0 L360.4,363.1 L359.3,365.1 L358.0,367.2 L356.4,369.2 L354.8,371.3 L352.9,373.2 L350.8,375.1 L348.6,376.8 L346.2,378.4 L343.5,379.9 L340.6,381.3 L337.7,382.5 L334.6,383.5 L331.6,384.3 L328.5,384.8 L325.3,385.2 L322.1,385.3 L318.8,385.2 L315.6,384.9 L312.5,384.3 L309.5,383.4 L306.4,382.3 L303.5,380.8 L300.6,379.3 L297.9,377.6 L295.5,375.8 L293.3,373.9 L291.3,371.9 L289.4,369.8 L287.7,367.6 L286.2,365.3 L284.9,363.0 L283.7,360.7 L282.8,358.3 L281.9,355.8 L281.3,353.3 L280.9,350.7 L280.6,348.1 L280.5,345.4 L280.6,342.5 L280.9,339.6 L281.4,336.7 L282.0,333.8 L282.8,331.1 L283.8,328.4 L284.9,325.8 L286.1,323.2 L287.6,320.8 L289.3,318.4 L291.3,316.3 L293.8,314.3 L297.0,312.4 L300.3,310.6 L303.6,309.0 L306.4,307.7 L308.3,306.7Z" fill="url(#gMacNuc)"/>
<g clip-path="url(#cMacNuc)"><path d="M308.3,306.7 L310.1,306.8 L312.7,306.8 L315.7,306.9 L319.0,307.1 L322.3,307.4 L325.3,307.8 L328.2,308.4 L331.1,309.1 L334.1,309.9 L337.0,310.9 L339.7,311.9 L342.3,313.1 L344.7,314.4 L347.0,315.8 L349.2,317.2 L351.3,318.9 L353.2,320.7 L355.0,322.6 L356.6,324.8 L358.1,327.2 L359.5,329.7 L360.7,332.3 L361.7,335.0 L362.5,337.5 L363.1,340.0 L363.5,342.5 L363.7,345.1 L363.8,347.6 L363.7,350.0 L363.5,352.4 L363.2,354.7 L362.7,356.8 L362.1,358.9 L361.4,361.0 L360.4,363.1 L359.3,365.1 L358.0,367.2 L356.4,369.2 L354.8,371.3 L352.9,373.2 L350.8,375.1 L348.6,376.8 L346.2,378.4 L343.5,379.9 L340.6,381.3 L337.7,382.5 L334.6,383.5 L331.6,384.3 L328.5,384.8 L325.3,385.2 L322.1,385.3 L318.8,385.2 L315.6,384.9 L312.5,384.3 L309.5,383.4 L306.4,382.3 L303.5,380.8 L300.6,379.3 L297.9,377.6 L295.5,375.8 L293.3,373.9 L291.3,371.9 L289.4,369.8 L287.7,367.6 L286.2,365.3 L284.9,363.0 L283.7,360.7 L282.8,358.3 L281.9,355.8 L281.3,353.3 L280.9,350.7 L280.6,348.1 L280.5,345.4 L280.6,342.5 L280.9,339.6 L281.4,336.7 L282.0,333.8 L282.8,331.1 L283.8,328.4 L284.9,325.8 L286.1,323.2 L287.6,320.8 L289.3,318.4 L291.3,316.3 L293.8,314.3 L297.0,312.4 L300.3,310.6 L303.6,309.0 L306.4,307.7 L308.3,306.7Z" fill="none" stroke="#6a3010" stroke-width="3" filter="url(#blur1)" opacity="0.6"/></g>
<g fill="none" stroke="#f0a040" stroke-width="0.9" opacity="0.8">
<circle cx="276.4" cy="323.9" r="1.6" fill="#f0b050"/><circle cx="370.4" cy="349.4" r="1.6" fill="#f0b050"/><circle cx="370.4" cy="387.8" r="3" fill="#f5b040"/>
<circle cx="336.3" cy="393.9" r="1.3" fill="#f0b050"/><circle cx="335.5" cy="303.8" r="1.5" fill="#f0b050"/>
<path d="M284,389 q1,5 6,6"/><path d="M258,337 q-2,5 0,9"/><path d="M375,313 q3,3 2,8"/>
</g>
<!-- dendritic -->
<g fill="#d8d8d8" transform="translate(1.2,1.2)" opacity="0.7"><path d="M582.8,168.6 L582.4,167.4 L581.8,165.8 L581.2,163.8 L580.4,161.5 L579.6,159.0 L578.7,156.4 L577.7,153.7 L576.6,151.1 L575.4,148.5 L574.2,145.7 L572.8,142.7 L571.4,139.7 L569.9,136.7 L568.3,133.8 L566.7,131.1 L565.0,128.8 L563.3,126.8 L561.4,125.1 L559.6,123.6 L557.7,122.3 L555.9,121.2 L554.1,120.2 L552.4,119.2 L550.8,118.2 L549.1,117.1 L547.5,116.2 L545.9,115.4 L544.4,114.6 L542.9,113.8 L541.5,113.0 L540.1,112.1 L538.7,111.1 L537.3,109.9 L535.7,108.5 L534.1,107.0 L532.6,105.5 L531.1,104.0 L529.8,102.6 L528.6,101.5 L527.8,100.7 L527.0,101.3 L527.8,102.3 L528.8,103.5 L529.9,105.0 L531.3,106.7 L532.7,108.4 L534.1,110.1 L535.6,111.7 L537.1,113.1 L538.5,114.3 L540.0,115.4 L541.4,116.3 L542.9,117.2 L544.4,118.1 L545.9,119.0 L547.3,120.0 L548.8,121.0 L550.5,122.2 L552.2,123.2 L554.0,124.3 L555.7,125.4 L557.3,126.6 L558.8,127.9 L560.2,129.4 L561.4,131.2 L562.4,133.4 L563.4,136.0 L564.3,138.9 L565.1,142.0 L565.8,145.1 L566.4,148.2 L567.0,151.2 L567.5,153.9 L567.9,156.4 L568.2,158.9 L568.5,161.4 L568.6,163.8 L568.7,166.1 L568.8,168.1 L568.9,169.9 L569.1,171.3Z"/><path d="M550.4,117.8 L550.2,117.1 L550.0,116.2 L549.8,115.1 L549.5,114.0 L549.2,112.7 L549.0,111.5 L548.9,110.3 L548.8,109.2 L548.9,108.2 L549.0,107.1 L549.2,106.0 L549.5,104.9 L549.8,103.8 L550.1,102.7 L550.5,101.6 L550.8,100.6 L551.2,99.7 L551.7,98.8 L552.2,97.9 L552.8,97.0 L553.3,96.1 L553.9,95.2 L554.5,94.3 L555.1,93.4 L555.7,92.4 L556.4,91.5 L557.0,90.5 L557.7,89.6 L558.4,88.6 L559.1,87.7 L559.7,86.7 L560.2,85.7 L560.7,84.7 L561.2,83.8 L561.6,82.8 L562.0,81.9 L562.4,80.9 L562.7,80.0 L563.0,79.0 L563.1,78.0 L563.2,76.9 L563.1,75.8 L563.0,74.7 L562.8,73.6 L562.6,72.6 L562.4,71.7 L562.2,70.9 L562.1,70.3 L561.3,70.5 L561.4,71.1 L561.5,71.8 L561.6,72.8 L561.8,73.8 L561.9,74.8 L562.0,75.9 L562.0,76.9 L561.9,77.8 L561.7,78.7 L561.4,79.6 L561.1,80.4 L560.7,81.3 L560.3,82.2 L559.8,83.1 L559.3,84.0 L558.8,84.9 L558.2,85.8 L557.6,86.7 L557.0,87.6 L556.3,88.5 L555.5,89.4 L554.8,90.4 L554.1,91.3 L553.5,92.2 L552.8,93.1 L552.2,94.0 L551.6,94.9 L551.0,95.8 L550.4,96.8 L549.8,97.7 L549.3,98.7 L548.8,99.8 L548.3,100.9 L547.9,102.0 L547.5,103.1 L547.2,104.3 L546.9,105.5 L546.7,106.7 L546.5,107.9 L546.4,109.2 L546.4,110.4 L546.5,111.8 L546.6,113.2 L546.9,114.5 L547.1,115.7 L547.3,116.8 L547.5,117.7 L547.6,118.4Z"/><path d="M555.0,92.2 L554.6,91.7 L554.0,91.0 L553.3,90.2 L552.5,89.3 L551.7,88.4 L550.8,87.4 L549.8,86.5 L548.8,85.6 L547.6,84.7 L546.3,83.8 L544.8,82.8 L543.4,81.9 L542.0,81.0 L540.7,80.2 L539.6,79.6 L538.8,79.1 L538.4,79.7 L539.1,80.3 L540.2,81.0 L541.4,81.8 L542.8,82.8 L544.2,83.8 L545.5,84.8 L546.8,85.7 L547.8,86.6 L548.8,87.5 L549.6,88.5 L550.5,89.4 L551.3,90.4 L552.0,91.3 L552.6,92.2 L553.2,92.9 L553.6,93.4Z"/><path d="M571.1,154.7 L569.9,153.8 L568.2,152.4 L566.3,150.8 L564.1,149.1 L561.9,147.2 L559.7,145.4 L557.6,143.7 L555.7,142.2 L553.9,140.8 L552.1,139.4 L550.4,138.0 L548.7,136.7 L547.1,135.5 L545.7,134.4 L544.5,133.5 L543.6,132.8 L543.0,133.6 L543.9,134.3 L545.0,135.3 L546.3,136.5 L547.7,137.8 L549.3,139.3 L551.0,140.8 L552.7,142.3 L554.3,143.8 L556.1,145.4 L558.1,147.3 L560.2,149.2 L562.3,151.2 L564.4,153.1 L566.2,154.8 L567.8,156.2 L568.9,157.3Z"/><path d="M590.6,175.8 L590.9,174.6 L591.2,173.1 L591.6,171.2 L592.0,169.2 L592.5,167.1 L592.9,164.9 L593.4,162.8 L593.8,160.8 L594.3,159.0 L594.7,157.2 L595.2,155.3 L595.7,153.4 L596.3,151.3 L596.9,149.2 L597.5,147.0 L598.0,144.6 L598.6,142.2 L599.3,139.6 L600.0,136.9 L600.6,134.1 L601.3,131.3 L601.9,128.5 L602.4,125.7 L602.9,122.9 L603.2,120.1 L603.5,117.3 L603.6,114.4 L603.7,111.5 L603.8,108.8 L603.9,106.2 L604.1,103.7 L604.3,101.5 L604.7,99.5 L605.1,97.5 L605.6,95.6 L606.0,93.9 L606.5,92.3 L607.0,90.8 L607.4,89.6 L607.6,88.7 L606.8,88.3 L606.4,89.2 L605.8,90.4 L605.1,91.7 L604.4,93.3 L603.7,95.0 L602.9,96.9 L602.2,98.9 L601.7,101.1 L601.2,103.4 L600.9,105.9 L600.6,108.6 L600.3,111.3 L600.1,114.1 L599.8,116.9 L599.4,119.6 L598.9,122.3 L598.3,124.9 L597.7,127.6 L597.0,130.3 L596.3,133.0 L595.5,135.7 L594.7,138.3 L593.8,140.7 L593.0,143.0 L592.0,145.0 L591.0,146.8 L590.0,148.6 L588.8,150.2 L587.7,151.8 L586.6,153.5 L585.5,155.3 L584.4,157.1 L583.4,159.0 L582.3,161.1 L581.3,163.2 L580.3,165.2 L579.4,167.1 L578.6,168.8 L577.9,170.2 L577.4,171.3Z"/><path d="M605.2,183.9 L605.9,183.1 L606.8,182.0 L608.1,180.6 L609.5,179.0 L611.0,177.3 L612.5,175.5 L614.0,173.7 L615.3,171.9 L616.4,170.2 L617.5,168.4 L618.5,166.6 L619.4,164.8 L620.3,163.0 L621.2,161.2 L622.0,159.3 L622.8,157.5 L623.6,155.6 L624.3,153.7 L625.1,151.8 L625.8,149.9 L626.4,147.9 L627.0,145.9 L627.5,144.0 L627.9,142.0 L628.2,140.0 L628.5,138.0 L628.6,136.0 L628.7,133.9 L628.8,132.0 L628.7,130.1 L628.6,128.3 L628.5,126.7 L628.1,125.2 L627.7,123.8 L627.1,122.5 L626.6,121.3 L626.0,120.3 L625.4,119.4 L625.0,118.7 L624.7,118.1 L623.9,118.5 L624.2,119.1 L624.5,119.9 L624.9,120.9 L625.3,121.9 L625.7,123.1 L626.0,124.3 L626.2,125.6 L626.3,126.9 L626.4,128.4 L626.3,130.1 L626.3,131.9 L626.1,133.8 L625.9,135.7 L625.6,137.6 L625.3,139.5 L624.9,141.4 L624.4,143.2 L623.9,145.0 L623.2,146.8 L622.5,148.7 L621.8,150.5 L621.0,152.3 L620.1,154.0 L619.2,155.7 L618.2,157.4 L617.2,159.0 L616.2,160.6 L615.1,162.1 L613.9,163.6 L612.7,165.0 L611.5,166.2 L610.2,167.4 L608.8,168.4 L607.2,169.4 L605.4,170.4 L603.6,171.3 L601.8,172.1 L600.1,172.9 L598.7,173.6 L597.6,174.1Z"/><path d="M621.3,158.6 L621.1,157.2 L620.9,155.3 L620.6,153.1 L620.3,150.6 L620.0,148.1 L619.6,145.6 L619.2,143.4 L618.8,141.5 L618.3,139.9 L617.8,138.6 L617.3,137.4 L616.7,136.3 L616.0,135.4 L615.4,134.5 L614.8,133.6 L614.2,132.8 L613.5,131.9 L612.7,131.1 L611.9,130.3 L611.0,129.6 L610.3,129.0 L609.6,128.4 L609.0,128.0 L608.6,127.6 L608.0,128.2 L608.4,128.6 L609.0,129.1 L609.6,129.7 L610.3,130.4 L611.0,131.2 L611.8,132.0 L612.4,132.8 L613.0,133.6 L613.6,134.5 L614.2,135.3 L614.7,136.2 L615.2,137.1 L615.7,138.1 L616.2,139.2 L616.6,140.5 L617.0,141.9 L617.3,143.7 L617.6,145.9 L617.9,148.3 L618.1,150.8 L618.3,153.3 L618.4,155.6 L618.6,157.5 L618.7,158.8Z"/><path d="M605.8,187.4 L606.7,186.6 L608.0,185.6 L609.6,184.4 L611.4,183.0 L613.4,181.4 L615.4,179.8 L617.4,178.2 L619.4,176.6 L621.3,174.9 L623.3,173.1 L625.4,171.3 L627.4,169.4 L629.5,167.6 L631.5,165.7 L633.3,164.0 L635.1,162.3 L636.7,160.7 L638.1,159.2 L639.5,157.7 L640.7,156.3 L641.9,154.9 L643.1,153.7 L644.3,152.5 L645.5,151.4 L646.7,150.3 L648.0,149.3 L649.3,148.4 L650.5,147.5 L651.8,146.7 L653.0,145.9 L654.3,145.3 L655.4,144.7 L656.6,144.3 L657.9,144.0 L659.3,143.7 L660.6,143.6 L661.9,143.4 L663.0,143.4 L664.0,143.3 L664.7,143.2 L664.7,142.4 L664.0,142.4 L663.0,142.3 L661.8,142.3 L660.5,142.2 L659.1,142.2 L657.7,142.3 L656.2,142.5 L654.8,142.9 L653.4,143.3 L652.0,143.9 L650.6,144.6 L649.2,145.3 L647.8,146.1 L646.4,147.0 L644.9,148.0 L643.5,149.0 L642.1,150.1 L640.8,151.4 L639.5,152.7 L638.3,154.0 L637.0,155.4 L635.6,156.8 L634.2,158.1 L632.5,159.5 L630.7,160.9 L628.7,162.4 L626.5,163.9 L624.3,165.5 L622.1,167.0 L619.8,168.5 L617.6,169.8 L615.5,170.9 L613.5,171.9 L611.3,172.8 L609.0,173.6 L606.8,174.3 L604.7,175.0 L602.8,175.5 L601.1,176.1 L599.9,176.5Z"/><path d="M596.3,195.9 L597.4,195.6 L598.8,195.1 L600.5,194.6 L602.4,194.0 L604.3,193.3 L606.2,192.7 L608.0,192.2 L609.7,191.7 L611.3,191.3 L612.9,190.8 L614.5,190.4 L616.1,189.9 L617.6,189.6 L619.0,189.3 L620.5,189.1 L621.8,189.1 L623.1,189.2 L624.4,189.5 L625.6,189.9 L626.8,190.4 L628.1,190.9 L629.3,191.5 L630.5,192.1 L631.7,192.7 L632.8,193.3 L633.8,193.9 L634.9,194.5 L635.9,195.2 L636.9,195.8 L638.0,196.5 L639.2,197.1 L640.4,197.7 L641.6,198.2 L642.9,198.7 L644.2,199.3 L645.5,199.8 L646.9,200.2 L648.2,200.6 L649.6,200.8 L651.0,201.0 L652.4,201.0 L653.8,200.8 L655.2,200.6 L656.6,200.3 L657.9,200.0 L659.2,199.6 L660.4,199.2 L661.5,198.9 L662.6,198.5 L663.7,198.1 L664.7,197.7 L665.6,197.2 L666.5,196.8 L667.2,196.4 L667.9,196.1 L668.4,195.9 L668.0,195.1 L667.5,195.3 L666.8,195.6 L666.1,195.8 L665.2,196.2 L664.2,196.5 L663.2,196.8 L662.1,197.1 L661.1,197.3 L660.0,197.6 L658.8,197.8 L657.5,198.1 L656.2,198.3 L654.9,198.5 L653.6,198.7 L652.4,198.7 L651.2,198.6 L650.0,198.4 L648.8,198.1 L647.6,197.8 L646.4,197.3 L645.2,196.8 L644.0,196.2 L642.8,195.7 L641.6,195.1 L640.5,194.6 L639.5,194.0 L638.5,193.3 L637.5,192.7 L636.5,192.0 L635.4,191.3 L634.3,190.6 L633.1,189.9 L632.0,189.2 L630.8,188.6 L629.6,187.9 L628.3,187.3 L627.0,186.6 L625.6,186.0 L624.1,185.4 L622.6,184.9 L621.0,184.4 L619.3,184.0 L617.7,183.6 L615.9,183.3 L614.2,183.0 L612.4,182.7 L610.7,182.5 L608.9,182.3 L607.0,182.2 L604.8,182.1 L602.7,182.1 L600.5,182.1 L598.5,182.1 L596.7,182.1 L595.2,182.1 L594.1,182.1Z"/><path d="M639.5,194.8 L640.2,194.6 L641.3,194.3 L642.6,194.0 L643.9,193.6 L645.4,193.2 L646.9,192.8 L648.3,192.4 L649.6,192.0 L650.8,191.7 L652.1,191.4 L653.5,191.1 L654.8,190.8 L656.1,190.6 L657.2,190.3 L658.2,190.1 L658.9,190.0 L658.7,189.2 L658.0,189.3 L657.1,189.4 L655.9,189.6 L654.6,189.7 L653.3,189.9 L651.9,190.1 L650.5,190.3 L649.2,190.6 L647.9,190.8 L646.5,191.1 L645.0,191.4 L643.5,191.8 L642.1,192.1 L640.8,192.4 L639.7,192.6 L638.9,192.8Z"/><path d="M596.6,220.4 L597.2,220.5 L598.1,220.7 L599.0,220.9 L600.1,221.2 L601.3,221.4 L602.5,221.6 L603.7,221.9 L604.8,222.0 L605.9,222.2 L607.0,222.3 L608.1,222.4 L609.2,222.5 L610.3,222.6 L611.5,222.7 L612.6,222.7 L613.7,222.7 L614.8,222.7 L616.0,222.7 L617.3,222.6 L618.5,222.6 L619.7,222.5 L620.7,222.4 L621.6,222.3 L622.2,222.3 L622.2,221.5 L621.5,221.5 L620.7,221.4 L619.6,221.4 L618.5,221.4 L617.3,221.3 L616.0,221.2 L614.9,221.2 L613.7,221.1 L612.7,221.0 L611.6,220.9 L610.5,220.8 L609.4,220.6 L608.3,220.5 L607.3,220.3 L606.2,220.2 L605.2,220.0 L604.1,219.7 L603.0,219.4 L601.9,219.1 L600.8,218.7 L599.7,218.4 L598.8,218.1 L598.0,217.8 L597.4,217.6Z"/><path d="M597.7,225.5 L598.5,225.6 L599.5,225.8 L600.7,226.0 L602.1,226.2 L603.5,226.4 L605.0,226.6 L606.4,226.9 L607.7,227.2 L609.0,227.4 L610.2,227.7 L611.5,227.9 L612.7,228.2 L614.0,228.5 L615.4,228.8 L616.9,229.2 L618.5,229.6 L620.5,230.1 L622.8,230.7 L625.3,231.4 L627.8,232.0 L630.2,232.7 L632.5,233.3 L634.3,233.8 L635.7,234.2 L635.9,233.4 L634.6,233.0 L632.7,232.3 L630.6,231.6 L628.2,230.8 L625.7,230.0 L623.2,229.1 L621.0,228.4 L619.1,227.8 L617.4,227.3 L615.9,226.9 L614.5,226.5 L613.2,226.1 L612.0,225.8 L610.8,225.5 L609.5,225.2 L608.3,224.8 L606.9,224.5 L605.5,224.2 L604.0,223.8 L602.6,223.5 L601.3,223.2 L600.1,222.9 L599.1,222.7 L598.3,222.5Z"/><path d="M581.4,214.6 L582.1,215.5 L583.1,216.7 L584.2,218.1 L585.5,219.7 L586.9,221.4 L588.3,223.1 L589.7,224.8 L591.1,226.2 L592.4,227.5 L593.7,228.7 L595.0,229.9 L596.4,231.1 L597.8,232.3 L599.2,233.4 L600.8,234.6 L602.4,235.9 L604.1,237.1 L605.9,238.5 L607.7,239.8 L609.6,241.2 L611.6,242.6 L613.7,243.9 L615.8,245.2 L618.0,246.5 L620.3,247.6 L622.7,248.7 L625.2,249.8 L627.7,250.8 L630.3,251.8 L632.8,252.8 L635.2,253.7 L637.6,254.6 L639.9,255.5 L642.2,256.3 L644.4,257.0 L646.6,257.7 L648.7,258.4 L650.8,259.1 L652.8,259.9 L654.7,260.7 L656.5,261.5 L658.3,262.4 L660.0,263.3 L661.7,264.2 L663.3,265.1 L664.8,266.0 L666.2,266.9 L667.4,267.7 L668.6,268.5 L669.6,269.4 L670.6,270.3 L671.5,271.1 L672.3,271.9 L672.9,272.7 L673.5,273.3 L674.0,273.8 L674.6,273.2 L674.2,272.7 L673.7,272.1 L673.0,271.3 L672.3,270.4 L671.5,269.4 L670.6,268.4 L669.5,267.4 L668.4,266.5 L667.1,265.6 L665.7,264.6 L664.2,263.6 L662.6,262.6 L660.9,261.6 L659.2,260.6 L657.4,259.7 L655.5,258.7 L653.6,257.8 L651.6,257.0 L649.5,256.2 L647.4,255.4 L645.2,254.6 L643.1,253.8 L640.8,252.9 L638.6,252.0 L636.3,251.0 L633.9,250.0 L631.5,248.9 L629.0,247.8 L626.6,246.7 L624.2,245.5 L621.9,244.3 L619.8,243.1 L617.8,241.9 L615.8,240.6 L613.9,239.3 L612.0,237.9 L610.2,236.6 L608.5,235.2 L607.0,233.7 L605.6,232.3 L604.4,230.9 L603.4,229.5 L602.5,228.1 L601.7,226.7 L601.0,225.3 L600.3,223.8 L599.6,222.3 L598.9,220.8 L598.1,219.2 L597.4,217.4 L596.6,215.5 L595.8,213.6 L595.1,211.8 L594.5,210.1 L593.9,208.6 L593.5,207.5Z"/><path d="M637.1,255.0 L637.6,255.8 L638.2,256.7 L639.0,257.7 L639.8,258.8 L640.6,260.1 L641.3,261.4 L641.9,262.8 L642.4,264.1 L642.6,265.6 L642.7,267.3 L642.7,269.2 L642.7,271.1 L642.6,273.1 L642.5,275.1 L642.4,277.0 L642.5,278.8 L642.5,280.5 L642.6,282.2 L642.6,283.8 L642.7,285.4 L642.8,287.0 L643.0,288.6 L643.3,290.2 L643.8,291.8 L644.4,293.5 L645.1,295.2 L645.9,297.0 L646.8,298.7 L647.8,300.4 L648.7,302.0 L649.6,303.4 L650.4,304.7 L651.2,305.9 L652.0,306.9 L652.8,307.8 L653.6,308.7 L654.4,309.4 L655.0,310.0 L655.5,310.5 L655.9,310.9 L656.5,310.5 L656.1,310.0 L655.5,309.5 L654.9,308.8 L654.3,308.0 L653.6,307.2 L652.8,306.3 L652.1,305.2 L651.4,304.1 L650.6,302.8 L649.8,301.3 L648.9,299.8 L648.0,298.1 L647.2,296.4 L646.4,294.7 L645.7,293.0 L645.2,291.4 L644.9,289.9 L644.6,288.3 L644.5,286.8 L644.4,285.3 L644.4,283.7 L644.4,282.1 L644.4,280.5 L644.3,278.8 L644.3,277.0 L644.4,275.1 L644.5,273.2 L644.7,271.2 L644.8,269.2 L644.8,267.3 L644.7,265.4 L644.4,263.7 L644.0,262.0 L643.3,260.4 L642.5,259.0 L641.7,257.6 L640.9,256.4 L640.1,255.3 L639.5,254.4 L639.1,253.8Z"/><path d="M643.1,279.8 L643.9,280.1 L644.9,280.6 L646.2,281.1 L647.6,281.7 L649.2,282.3 L651.0,282.8 L652.9,283.4 L655.0,283.8 L657.4,284.1 L660.2,284.4 L663.3,284.7 L666.4,284.9 L669.5,285.1 L672.3,285.3 L674.7,285.4 L676.4,285.5 L676.4,284.9 L674.7,284.7 L672.4,284.5 L669.6,284.2 L666.5,283.9 L663.4,283.6 L660.3,283.2 L657.5,282.8 L655.2,282.4 L653.3,281.9 L651.5,281.4 L649.8,280.8 L648.2,280.2 L646.8,279.6 L645.6,279.0 L644.6,278.5 L643.7,278.2Z"/><path d="M575.5,210.8 L575.8,211.9 L576.3,213.5 L576.9,215.2 L577.5,217.2 L578.1,219.2 L578.6,221.3 L579.1,223.3 L579.4,225.2 L579.7,227.0 L579.8,228.8 L579.9,230.6 L579.9,232.5 L579.9,234.4 L579.9,236.4 L579.9,238.4 L579.9,240.4 L580.0,242.5 L580.0,244.6 L580.0,246.8 L580.1,249.0 L580.1,251.1 L580.1,253.3 L580.2,255.5 L580.2,257.6 L580.3,259.7 L580.3,261.9 L580.3,264.1 L580.3,266.2 L580.4,268.4 L580.4,270.5 L580.5,272.6 L580.6,274.6 L580.8,276.7 L581.0,278.9 L581.3,281.1 L581.5,283.2 L581.8,285.1 L582.1,286.9 L582.3,288.4 L582.4,289.5 L583.2,289.5 L583.2,288.3 L583.1,286.8 L583.0,285.0 L583.0,283.1 L582.9,280.9 L582.8,278.8 L582.8,276.6 L582.8,274.6 L582.8,272.6 L582.8,270.5 L582.9,268.4 L582.9,266.2 L583.0,264.1 L583.1,261.9 L583.1,259.8 L583.2,257.6 L583.2,255.4 L583.2,253.3 L583.2,251.1 L583.2,248.9 L583.2,246.8 L583.3,244.7 L583.4,242.6 L583.5,240.6 L583.7,238.6 L583.9,236.7 L584.2,234.8 L584.5,232.9 L584.8,231.0 L585.1,229.0 L585.4,227.1 L585.6,225.1 L585.8,222.9 L586.0,220.7 L586.1,218.4 L586.2,216.2 L586.4,214.1 L586.5,212.2 L586.6,210.7 L586.6,209.5Z"/><path d="M581.4,241.1 L582.1,242.1 L583.0,243.4 L584.2,244.9 L585.4,246.6 L586.6,248.4 L587.7,250.2 L588.7,252.0 L589.4,253.6 L589.9,255.2 L590.3,256.9 L590.5,258.7 L590.6,260.5 L590.7,262.2 L590.8,263.8 L590.8,265.1 L590.9,266.1 L591.7,266.1 L591.7,265.1 L591.7,263.8 L591.8,262.2 L591.8,260.5 L591.8,258.6 L591.7,256.7 L591.4,254.8 L591.0,253.0 L590.3,251.2 L589.3,249.4 L588.2,247.4 L587.0,245.6 L585.8,243.8 L584.7,242.2 L583.8,240.9 L583.2,239.9Z"/><path d="M580.9,263.5 L580.7,264.0 L580.4,264.7 L580.0,265.4 L579.6,266.3 L579.2,267.2 L578.8,268.1 L578.3,269.1 L577.9,270.0 L577.4,270.9 L576.9,272.0 L576.3,273.1 L575.8,274.2 L575.2,275.3 L574.7,276.2 L574.3,277.0 L574.0,277.6 L574.6,278.0 L575.0,277.4 L575.4,276.6 L576.0,275.7 L576.6,274.7 L577.3,273.6 L578.0,272.6 L578.6,271.6 L579.1,270.6 L579.6,269.7 L580.1,268.8 L580.6,267.9 L581.1,267.0 L581.5,266.1 L581.9,265.4 L582.2,264.8 L582.5,264.3Z"/><path d="M561.9,180.3 L560.7,180.2 L559.2,180.0 L557.5,179.8 L555.5,179.6 L553.5,179.3 L551.6,179.1 L549.7,178.8 L548.0,178.5 L546.5,178.2 L545.1,177.8 L543.7,177.5 L542.4,177.2 L541.1,176.8 L539.8,176.3 L538.6,175.8 L537.3,175.2 L536.0,174.4 L534.8,173.4 L533.5,172.2 L532.2,171.0 L530.8,169.8 L529.5,168.6 L528.0,167.4 L526.6,166.4 L525.2,165.6 L523.8,164.8 L522.4,164.2 L520.9,163.5 L519.5,163.0 L518.1,162.5 L516.7,162.1 L515.4,161.7 L514.0,161.5 L512.7,161.2 L511.4,161.1 L510.1,160.9 L508.8,160.9 L507.4,161.0 L506.0,161.1 L504.4,161.3 L502.6,161.6 L500.5,162.1 L498.3,162.8 L496.0,163.4 L493.9,164.1 L491.9,164.7 L490.3,165.3 L489.1,165.6 L489.3,166.4 L490.5,166.1 L492.2,165.6 L494.2,165.1 L496.3,164.6 L498.6,164.0 L500.8,163.5 L502.9,163.1 L504.6,162.9 L506.1,162.8 L507.5,162.8 L508.7,162.9 L509.9,163.1 L511.1,163.3 L512.2,163.5 L513.4,163.9 L514.6,164.3 L515.9,164.7 L517.2,165.2 L518.4,165.7 L519.7,166.3 L520.9,167.0 L522.2,167.7 L523.4,168.5 L524.6,169.4 L525.8,170.3 L527.0,171.4 L528.2,172.6 L529.5,173.8 L530.7,175.1 L532.0,176.4 L533.4,177.7 L534.7,178.8 L536.0,179.9 L537.3,180.9 L538.5,181.8 L539.8,182.6 L541.0,183.5 L542.3,184.3 L543.6,185.1 L545.0,186.0 L546.5,187.0 L548.2,188.1 L550.0,189.2 L551.8,190.3 L553.5,191.3 L555.1,192.2 L556.3,193.0 L557.3,193.5Z"/><path d="M527.3,167.9 L526.7,166.6 L525.8,164.8 L524.8,162.6 L523.7,160.2 L522.5,157.8 L521.3,155.4 L520.1,153.2 L518.9,151.4 L517.9,149.9 L516.8,148.7 L515.8,147.5 L514.8,146.6 L513.7,145.7 L512.7,144.9 L511.6,144.1 L510.5,143.3 L509.2,142.6 L507.9,141.8 L506.5,141.2 L505.1,140.6 L503.8,140.0 L502.6,139.6 L501.6,139.2 L500.9,138.8 L500.5,139.6 L501.2,139.9 L502.2,140.4 L503.3,141.0 L504.6,141.6 L505.9,142.3 L507.2,143.1 L508.4,143.9 L509.5,144.7 L510.5,145.5 L511.5,146.3 L512.5,147.1 L513.4,148.0 L514.3,148.9 L515.2,150.0 L516.1,151.2 L517.1,152.6 L518.0,154.3 L519.1,156.5 L520.2,158.8 L521.3,161.3 L522.4,163.7 L523.3,165.9 L524.1,167.7 L524.7,169.1Z"/><path d="M553.4,199.5 L552.5,200.2 L551.4,201.2 L550.1,202.3 L548.7,203.5 L547.3,204.6 L545.9,205.8 L544.7,206.7 L543.6,207.4 L542.6,208.0 L541.6,208.5 L540.8,208.8 L540.0,209.1 L539.2,209.3 L538.2,209.5 L537.0,209.6 L535.6,209.6 L533.9,209.5 L532.1,209.3 L530.0,209.1 L527.8,208.7 L525.6,208.3 L523.4,207.9 L521.3,207.5 L519.3,207.1 L517.4,206.7 L515.5,206.4 L513.7,206.1 L512.0,205.8 L510.3,205.4 L508.6,205.0 L507.0,204.5 L505.3,204.0 L503.5,203.3 L501.7,202.6 L499.9,201.9 L498.1,201.0 L496.4,200.2 L494.6,199.3 L492.9,198.4 L491.3,197.4 L489.7,196.5 L488.2,195.5 L486.7,194.4 L485.3,193.3 L483.8,192.2 L482.3,191.2 L480.8,190.3 L479.2,189.5 L477.5,188.8 L475.7,188.2 L473.8,187.7 L471.9,187.3 L470.1,186.9 L468.4,186.6 L467.1,186.3 L466.1,186.1 L465.9,186.7 L466.9,187.0 L468.3,187.3 L469.9,187.7 L471.7,188.1 L473.5,188.6 L475.4,189.2 L477.2,189.8 L478.8,190.5 L480.2,191.3 L481.6,192.3 L483.0,193.3 L484.4,194.5 L485.8,195.6 L487.3,196.8 L488.8,197.9 L490.3,199.0 L492.0,200.0 L493.7,201.0 L495.4,202.0 L497.2,203.0 L498.9,203.9 L500.7,204.8 L502.6,205.7 L504.3,206.4 L506.1,207.1 L507.9,207.6 L509.6,208.1 L511.4,208.6 L513.1,209.0 L514.9,209.4 L516.7,209.8 L518.5,210.3 L520.5,210.9 L522.6,211.5 L524.7,212.1 L526.9,212.7 L529.1,213.4 L531.2,213.9 L533.2,214.4 L535.0,214.8 L536.6,215.1 L538.0,215.3 L539.4,215.4 L540.7,215.5 L542.0,215.5 L543.3,215.5 L544.6,215.3 L546.1,215.2 L547.9,214.9 L549.8,214.5 L551.8,214.0 L553.8,213.5 L555.7,213.0 L557.4,212.6 L558.7,212.3 L559.7,212.0Z"/><path d="M509.2,206.6 L508.3,206.9 L507.1,207.3 L505.6,207.8 L504.0,208.3 L502.4,208.9 L500.7,209.4 L499.1,209.9 L497.6,210.4 L496.2,210.8 L494.7,211.2 L493.1,211.6 L491.7,211.9 L490.2,212.3 L489.0,212.6 L487.9,212.8 L487.1,213.0 L487.3,213.8 L488.1,213.7 L489.2,213.5 L490.5,213.3 L491.9,213.0 L493.4,212.8 L495.0,212.5 L496.5,212.2 L498.0,211.8 L499.5,211.5 L501.2,211.0 L502.9,210.6 L504.6,210.1 L506.2,209.6 L507.7,209.2 L508.9,208.9 L509.8,208.6Z"/><path d="M557.0,198.2 L556.1,199.0 L554.9,200.0 L553.6,201.2 L552.2,202.5 L550.7,203.8 L549.2,205.0 L547.7,206.1 L546.4,206.9 L545.3,207.6 L544.0,208.1 L542.7,208.5 L541.2,208.9 L539.6,209.3 L538.0,209.7 L536.3,210.2 L534.5,210.8 L532.7,211.5 L530.8,212.3 L528.9,213.1 L526.9,213.9 L525.0,214.8 L523.2,215.6 L521.6,216.4 L520.1,217.2 L518.8,217.9 L517.6,218.7 L516.5,219.5 L515.5,220.2 L514.7,220.9 L514.0,221.5 L513.4,221.9 L512.9,222.3 L515.5,225.7 L516.0,225.4 L516.6,224.9 L517.3,224.4 L518.1,223.8 L519.0,223.2 L520.0,222.6 L521.1,222.0 L522.3,221.4 L523.7,220.8 L525.3,220.0 L527.0,219.3 L528.9,218.5 L530.8,217.8 L532.6,217.1 L534.5,216.5 L536.1,216.0 L537.6,215.7 L539.1,215.5 L540.6,215.4 L542.1,215.3 L543.7,215.3 L545.5,215.1 L547.3,214.9 L549.2,214.6 L551.2,214.1 L553.3,213.6 L555.5,213.0 L557.5,212.3 L559.5,211.7 L561.2,211.2 L562.6,210.8 L563.7,210.5Z"/><path d="M513.8,222.4 L512.7,222.7 L511.2,223.2 L509.4,223.8 L507.5,224.4 L505.5,225.0 L503.5,225.5 L501.6,226.0 L499.9,226.3 L498.4,226.5 L496.9,226.7 L495.4,226.7 L493.9,226.8 L492.5,226.7 L491.1,226.7 L489.7,226.7 L488.4,226.7 L487.2,226.8 L485.9,226.8 L484.7,226.9 L483.6,226.9 L482.5,227.0 L481.6,227.0 L480.8,227.1 L480.2,227.1 L480.2,227.9 L480.8,227.9 L481.6,228.0 L482.5,228.0 L483.6,228.1 L484.7,228.1 L485.9,228.2 L487.2,228.2 L488.4,228.3 L489.7,228.3 L491.0,228.4 L492.4,228.6 L493.8,228.7 L495.4,228.8 L497.0,228.8 L498.6,228.8 L500.3,228.7 L502.1,228.4 L504.1,228.1 L506.2,227.6 L508.3,227.1 L510.2,226.7 L512.0,226.2 L513.5,225.9 L514.6,225.6Z"/><path d="M496.9,227.1 L496.5,227.5 L496.0,228.0 L495.3,228.6 L494.5,229.3 L493.8,230.0 L493.0,230.7 L492.2,231.3 L491.5,232.0 L490.9,232.6 L490.3,233.2 L489.6,233.8 L489.0,234.4 L488.4,234.9 L487.8,235.5 L487.2,236.0 L486.6,236.6 L486.0,237.1 L485.4,237.6 L484.8,238.1 L484.2,238.6 L483.7,239.1 L483.1,239.5 L482.7,239.9 L482.4,240.1 L482.8,240.7 L483.2,240.4 L483.6,240.1 L484.2,239.8 L484.8,239.3 L485.4,238.9 L486.1,238.4 L486.7,237.9 L487.4,237.4 L488.0,236.9 L488.6,236.4 L489.2,235.9 L489.9,235.3 L490.5,234.7 L491.2,234.2 L491.8,233.6 L492.5,233.0 L493.2,232.4 L494.0,231.8 L494.8,231.1 L495.6,230.5 L496.4,229.9 L497.0,229.3 L497.6,228.8 L498.1,228.5Z"/><path d="M512.5,223.8 L512.3,224.1 L512.1,224.4 L511.7,224.9 L511.3,225.4 L510.8,226.1 L510.3,226.9 L509.8,227.9 L509.2,229.1 L508.6,230.5 L507.9,232.1 L507.2,233.9 L506.4,235.8 L505.6,237.8 L504.9,239.8 L504.2,241.6 L503.5,243.4 L502.9,245.0 L502.4,246.6 L502.0,248.2 L501.6,249.7 L501.1,251.0 L500.6,252.4 L500.0,253.6 L499.2,254.9 L498.1,256.1 L496.9,257.4 L495.5,258.7 L494.0,260.0 L492.5,261.2 L490.9,262.3 L489.4,263.3 L488.0,264.2 L486.7,265.0 L485.2,265.7 L483.7,266.3 L482.3,266.8 L480.9,267.2 L479.7,267.6 L478.6,267.9 L477.8,268.2 L478.0,268.8 L478.8,268.6 L479.9,268.4 L481.1,268.1 L482.6,267.8 L484.1,267.4 L485.7,266.9 L487.3,266.3 L488.8,265.6 L490.3,264.7 L491.9,263.8 L493.5,262.7 L495.2,261.5 L496.8,260.3 L498.4,259.0 L499.8,257.7 L501.0,256.3 L502.1,254.9 L502.9,253.4 L503.5,251.9 L504.1,250.4 L504.5,249.0 L505.0,247.5 L505.5,246.0 L506.1,244.4 L506.8,242.7 L507.6,240.9 L508.4,238.9 L509.3,237.0 L510.1,235.1 L510.8,233.4 L511.6,231.8 L512.2,230.5 L512.7,229.5 L513.2,228.8 L513.7,228.1 L514.1,227.6 L514.5,227.2 L514.9,226.9 L515.2,226.5 L515.5,226.2Z"/><path d="M501.5,251.5 L500.8,251.5 L499.8,251.5 L498.6,251.5 L497.3,251.5 L495.9,251.5 L494.5,251.5 L493.2,251.5 L492.0,251.5 L491.0,251.5 L490.0,251.5 L489.0,251.5 L488.1,251.5 L487.1,251.5 L486.1,251.5 L485.0,251.5 L483.7,251.5 L482.2,251.5 L480.5,251.5 L478.7,251.6 L476.8,251.6 L475.0,251.7 L473.3,251.7 L471.9,251.7 L470.9,251.8 L470.9,252.4 L471.9,252.5 L473.3,252.5 L475.0,252.5 L476.8,252.6 L478.7,252.6 L480.5,252.7 L482.2,252.7 L483.7,252.7 L484.9,252.8 L486.0,252.8 L487.1,252.9 L488.0,252.9 L489.0,252.9 L489.9,253.0 L490.9,253.0 L492.0,253.1 L493.2,253.1 L494.5,253.2 L495.9,253.2 L497.3,253.3 L498.6,253.4 L499.7,253.4 L500.7,253.5 L501.5,253.5Z"/><path d="M511.1,225.6 L511.1,226.0 L511.0,226.5 L510.9,227.0 L510.8,227.6 L510.7,228.3 L510.5,229.3 L510.3,230.4 L510.1,231.9 L509.7,233.6 L509.3,235.8 L508.9,238.2 L508.4,240.7 L507.9,243.4 L507.5,246.0 L507.1,248.4 L506.8,250.7 L506.5,252.7 L506.4,254.6 L506.3,256.5 L506.2,258.2 L506.1,259.9 L506.1,261.6 L506.0,263.2 L505.9,264.8 L505.8,266.4 L505.8,268.0 L505.9,269.5 L505.9,270.9 L505.9,272.3 L505.7,273.6 L505.5,275.0 L505.1,276.3 L504.5,277.8 L503.7,279.3 L502.8,280.9 L501.8,282.5 L500.7,284.0 L499.6,285.5 L498.5,286.8 L497.4,287.9 L496.2,288.8 L494.8,289.6 L493.3,290.3 L491.8,291.0 L490.4,291.5 L489.0,292.0 L487.9,292.3 L487.1,292.7 L487.3,293.3 L488.2,293.0 L489.3,292.7 L490.6,292.4 L492.2,291.9 L493.7,291.4 L495.3,290.7 L496.9,289.9 L498.2,288.9 L499.5,287.8 L500.8,286.5 L502.0,285.0 L503.2,283.5 L504.3,281.9 L505.3,280.3 L506.2,278.6 L506.9,277.1 L507.5,275.5 L507.9,274.0 L508.1,272.5 L508.2,271.0 L508.3,269.5 L508.3,268.0 L508.4,266.5 L508.5,265.0 L508.7,263.4 L508.8,261.7 L508.9,260.1 L509.0,258.4 L509.2,256.7 L509.3,254.9 L509.5,253.1 L509.8,251.1 L510.2,249.0 L510.6,246.5 L511.1,244.0 L511.7,241.4 L512.2,238.8 L512.7,236.4 L513.2,234.3 L513.5,232.5 L513.8,231.1 L514.1,230.0 L514.3,229.0 L514.4,228.3 L514.6,227.7 L514.7,227.2 L514.8,226.8 L514.9,226.4Z"/><path d="M506.8,277.5 L507.5,277.9 L508.5,278.4 L509.7,279.1 L511.0,279.8 L512.4,280.6 L513.7,281.4 L514.9,282.2 L516.0,283.0 L517.1,283.9 L518.1,285.0 L519.2,286.1 L520.2,287.3 L521.1,288.4 L522.0,289.4 L522.7,290.3 L523.2,290.9 L523.8,290.5 L523.3,289.8 L522.6,288.9 L521.8,287.8 L521.0,286.6 L520.0,285.4 L519.0,284.2 L518.0,283.0 L517.0,282.0 L515.8,281.0 L514.5,280.1 L513.2,279.2 L511.8,278.4 L510.5,277.6 L509.3,276.9 L508.4,276.4 L507.6,275.9Z"/><path d="M513.6,225.2 L514.0,225.7 L516.5,225.3 L515.2,225.9 L513.8,225.3 L513.8,225.3 L514.0,225.5 L514.4,226.2 L514.9,227.2 L515.8,228.7 L516.9,230.6 L518.2,232.8 L519.6,235.2 L521.0,237.7 L522.4,240.1 L523.5,242.4 L524.5,244.5 L525.2,246.3 L525.8,248.0 L526.3,249.7 L526.8,251.3 L527.1,252.9 L527.5,254.6 L527.8,256.3 L528.1,258.1 L528.4,260.0 L528.6,261.9 L528.7,263.8 L528.9,265.9 L529.0,267.9 L529.1,270.0 L529.4,272.2 L529.7,274.4 L530.1,276.8 L530.6,279.4 L531.2,282.1 L531.8,284.8 L532.4,287.4 L533.0,289.7 L533.4,291.6 L533.8,293.1 L534.4,292.9 L534.2,291.5 L533.9,289.5 L533.5,287.2 L533.0,284.6 L532.6,281.8 L532.2,279.1 L531.8,276.5 L531.5,274.2 L531.3,272.0 L531.2,269.9 L531.2,267.8 L531.1,265.8 L531.1,263.7 L531.0,261.7 L530.9,259.7 L530.7,257.7 L530.4,255.8 L530.2,254.1 L529.9,252.4 L529.6,250.7 L529.1,248.9 L528.7,247.1 L528.1,245.3 L527.3,243.3 L526.4,241.1 L525.2,238.7 L523.9,236.1 L522.5,233.6 L521.2,231.1 L519.9,228.9 L518.9,226.9 L518.1,225.4 L517.5,224.4 L517.1,223.7 L516.8,223.2 L516.5,222.8 L515.0,222.2 L513.7,222.8 L516.1,222.5 L516.4,222.8Z"/><path d="M527.6,249.4 L528.3,249.9 L529.3,250.6 L530.5,251.4 L531.8,252.3 L533.2,253.3 L534.6,254.3 L535.9,255.2 L537.1,256.2 L538.3,257.1 L539.5,258.2 L540.7,259.4 L541.9,260.5 L543.0,261.6 L544.1,262.6 L544.9,263.4 L545.6,264.0 L546.0,263.6 L545.4,262.9 L544.7,262.0 L543.7,261.0 L542.7,259.8 L541.5,258.5 L540.4,257.3 L539.2,256.1 L538.1,255.0 L536.9,254.0 L535.6,252.9 L534.3,251.8 L532.9,250.8 L531.7,249.8 L530.5,248.9 L529.5,248.2 L528.8,247.6Z"/><path d="M522.6,240.2 L522.4,241.0 L522.3,242.1 L522.1,243.4 L521.9,244.8 L521.6,246.3 L521.3,247.8 L520.9,249.3 L520.5,250.6 L520.0,252.0 L519.3,253.5 L518.5,255.0 L517.7,256.5 L516.9,258.0 L516.2,259.3 L515.6,260.4 L515.1,261.2 L515.7,261.6 L516.2,260.8 L516.9,259.7 L517.7,258.5 L518.6,257.1 L519.6,255.6 L520.4,254.1 L521.3,252.6 L521.9,251.2 L522.4,249.7 L522.9,248.2 L523.3,246.7 L523.6,245.2 L523.8,243.7 L524.1,242.4 L524.3,241.4 L524.4,240.6Z"/></g>
<g fill="#f5a623"><path d="M582.8,168.6 L582.4,167.4 L581.8,165.8 L581.2,163.8 L580.4,161.5 L579.6,159.0 L578.7,156.4 L577.7,153.7 L576.6,151.1 L575.4,148.5 L574.2,145.7 L572.8,142.7 L571.4,139.7 L569.9,136.7 L568.3,133.8 L566.7,131.1 L565.0,128.8 L563.3,126.8 L561.4,125.1 L559.6,123.6 L557.7,122.3 L555.9,121.2 L554.1,120.2 L552.4,119.2 L550.8,118.2 L549.1,117.1 L547.5,116.2 L545.9,115.4 L544.4,114.6 L542.9,113.8 L541.5,113.0 L540.1,112.1 L538.7,111.1 L537.3,109.9 L535.7,108.5 L534.1,107.0 L532.6,105.5 L531.1,104.0 L529.8,102.6 L528.6,101.5 L527.8,100.7 L527.0,101.3 L527.8,102.3 L528.8,103.5 L529.9,105.0 L531.3,106.7 L532.7,108.4 L534.1,110.1 L535.6,111.7 L537.1,113.1 L538.5,114.3 L540.0,115.4 L541.4,116.3 L542.9,117.2 L544.4,118.1 L545.9,119.0 L547.3,120.0 L548.8,121.0 L550.5,122.2 L552.2,123.2 L554.0,124.3 L555.7,125.4 L557.3,126.6 L558.8,127.9 L560.2,129.4 L561.4,131.2 L562.4,133.4 L563.4,136.0 L564.3,138.9 L565.1,142.0 L565.8,145.1 L566.4,148.2 L567.0,151.2 L567.5,153.9 L567.9,156.4 L568.2,158.9 L568.5,161.4 L568.6,163.8 L568.7,166.1 L568.8,168.1 L568.9,169.9 L569.1,171.3Z"/><path d="M550.4,117.8 L550.2,117.1 L550.0,116.2 L549.8,115.1 L549.5,114.0 L549.2,112.7 L549.0,111.5 L548.9,110.3 L548.8,109.2 L548.9,108.2 L549.0,107.1 L549.2,106.0 L549.5,104.9 L549.8,103.8 L550.1,102.7 L550.5,101.6 L550.8,100.6 L551.2,99.7 L551.7,98.8 L552.2,97.9 L552.8,97.0 L553.3,96.1 L553.9,95.2 L554.5,94.3 L555.1,93.4 L555.7,92.4 L556.4,91.5 L557.0,90.5 L557.7,89.6 L558.4,88.6 L559.1,87.7 L559.7,86.7 L560.2,85.7 L560.7,84.7 L561.2,83.8 L561.6,82.8 L562.0,81.9 L562.4,80.9 L562.7,80.0 L563.0,79.0 L563.1,78.0 L563.2,76.9 L563.1,75.8 L563.0,74.7 L562.8,73.6 L562.6,72.6 L562.4,71.7 L562.2,70.9 L562.1,70.3 L561.3,70.5 L561.4,71.1 L561.5,71.8 L561.6,72.8 L561.8,73.8 L561.9,74.8 L562.0,75.9 L562.0,76.9 L561.9,77.8 L561.7,78.7 L561.4,79.6 L561.1,80.4 L560.7,81.3 L560.3,82.2 L559.8,83.1 L559.3,84.0 L558.8,84.9 L558.2,85.8 L557.6,86.7 L557.0,87.6 L556.3,88.5 L555.5,89.4 L554.8,90.4 L554.1,91.3 L553.5,92.2 L552.8,93.1 L552.2,94.0 L551.6,94.9 L551.0,95.8 L550.4,96.8 L549.8,97.7 L549.3,98.7 L548.8,99.8 L548.3,100.9 L547.9,102.0 L547.5,103.1 L547.2,104.3 L546.9,105.5 L546.7,106.7 L546.5,107.9 L546.4,109.2 L546.4,110.4 L546.5,111.8 L546.6,113.2 L546.9,114.5 L547.1,115.7 L547.3,116.8 L547.5,117.7 L547.6,118.4Z"/><path d="M555.0,92.2 L554.6,91.7 L554.0,91.0 L553.3,90.2 L552.5,89.3 L551.7,88.4 L550.8,87.4 L549.8,86.5 L548.8,85.6 L547.6,84.7 L546.3,83.8 L544.8,82.8 L543.4,81.9 L542.0,81.0 L540.7,80.2 L539.6,79.6 L538.8,79.1 L538.4,79.7 L539.1,80.3 L540.2,81.0 L541.4,81.8 L542.8,82.8 L544.2,83.8 L545.5,84.8 L546.8,85.7 L547.8,86.6 L548.8,87.5 L549.6,88.5 L550.5,89.4 L551.3,90.4 L552.0,91.3 L552.6,92.2 L553.2,92.9 L553.6,93.4Z"/><path d="M571.1,154.7 L569.9,153.8 L568.2,152.4 L566.3,150.8 L564.1,149.1 L561.9,147.2 L559.7,145.4 L557.6,143.7 L555.7,142.2 L553.9,140.8 L552.1,139.4 L550.4,138.0 L548.7,136.7 L547.1,135.5 L545.7,134.4 L544.5,133.5 L543.6,132.8 L543.0,133.6 L543.9,134.3 L545.0,135.3 L546.3,136.5 L547.7,137.8 L549.3,139.3 L551.0,140.8 L552.7,142.3 L554.3,143.8 L556.1,145.4 L558.1,147.3 L560.2,149.2 L562.3,151.2 L564.4,153.1 L566.2,154.8 L567.8,156.2 L568.9,157.3Z"/><path d="M590.6,175.8 L590.9,174.6 L591.2,173.1 L591.6,171.2 L592.0,169.2 L592.5,167.1 L592.9,164.9 L593.4,162.8 L593.8,160.8 L594.3,159.0 L594.7,157.2 L595.2,155.3 L595.7,153.4 L596.3,151.3 L596.9,149.2 L597.5,147.0 L598.0,144.6 L598.6,142.2 L599.3,139.6 L600.0,136.9 L600.6,134.1 L601.3,131.3 L601.9,128.5 L602.4,125.7 L602.9,122.9 L603.2,120.1 L603.5,117.3 L603.6,114.4 L603.7,111.5 L603.8,108.8 L603.9,106.2 L604.1,103.7 L604.3,101.5 L604.7,99.5 L605.1,97.5 L605.6,95.6 L606.0,93.9 L606.5,92.3 L607.0,90.8 L607.4,89.6 L607.6,88.7 L606.8,88.3 L606.4,89.2 L605.8,90.4 L605.1,91.7 L604.4,93.3 L603.7,95.0 L602.9,96.9 L602.2,98.9 L601.7,101.1 L601.2,103.4 L600.9,105.9 L600.6,108.6 L600.3,111.3 L600.1,114.1 L599.8,116.9 L599.4,119.6 L598.9,122.3 L598.3,124.9 L597.7,127.6 L597.0,130.3 L596.3,133.0 L595.5,135.7 L594.7,138.3 L593.8,140.7 L593.0,143.0 L592.0,145.0 L591.0,146.8 L590.0,148.6 L588.8,150.2 L587.7,151.8 L586.6,153.5 L585.5,155.3 L584.4,157.1 L583.4,159.0 L582.3,161.1 L581.3,163.2 L580.3,165.2 L579.4,167.1 L578.6,168.8 L577.9,170.2 L577.4,171.3Z"/><path d="M605.2,183.9 L605.9,183.1 L606.8,182.0 L608.1,180.6 L609.5,179.0 L611.0,177.3 L612.5,175.5 L614.0,173.7 L615.3,171.9 L616.4,170.2 L617.5,168.4 L618.5,166.6 L619.4,164.8 L620.3,163.0 L621.2,161.2 L622.0,159.3 L622.8,157.5 L623.6,155.6 L624.3,153.7 L625.1,151.8 L625.8,149.9 L626.4,147.9 L627.0,145.9 L627.5,144.0 L627.9,142.0 L628.2,140.0 L628.5,138.0 L628.6,136.0 L628.7,133.9 L628.8,132.0 L628.7,130.1 L628.6,128.3 L628.5,126.7 L628.1,125.2 L627.7,123.8 L627.1,122.5 L626.6,121.3 L626.0,120.3 L625.4,119.4 L625.0,118.7 L624.7,118.1 L623.9,118.5 L624.2,119.1 L624.5,119.9 L624.9,120.9 L625.3,121.9 L625.7,123.1 L626.0,124.3 L626.2,125.6 L626.3,126.9 L626.4,128.4 L626.3,130.1 L626.3,131.9 L626.1,133.8 L625.9,135.7 L625.6,137.6 L625.3,139.5 L624.9,141.4 L624.4,143.2 L623.9,145.0 L623.2,146.8 L622.5,148.7 L621.8,150.5 L621.0,152.3 L620.1,154.0 L619.2,155.7 L618.2,157.4 L617.2,159.0 L616.2,160.6 L615.1,162.1 L613.9,163.6 L612.7,165.0 L611.5,166.2 L610.2,167.4 L608.8,168.4 L607.2,169.4 L605.4,170.4 L603.6,171.3 L601.8,172.1 L600.1,172.9 L598.7,173.6 L597.6,174.1Z"/><path d="M621.3,158.6 L621.1,157.2 L620.9,155.3 L620.6,153.1 L620.3,150.6 L620.0,148.1 L619.6,145.6 L619.2,143.4 L618.8,141.5 L618.3,139.9 L617.8,138.6 L617.3,137.4 L616.7,136.3 L616.0,135.4 L615.4,134.5 L614.8,133.6 L614.2,132.8 L613.5,131.9 L612.7,131.1 L611.9,130.3 L611.0,129.6 L610.3,129.0 L609.6,128.4 L609.0,128.0 L608.6,127.6 L608.0,128.2 L608.4,128.6 L609.0,129.1 L609.6,129.7 L610.3,130.4 L611.0,131.2 L611.8,132.0 L612.4,132.8 L613.0,133.6 L613.6,134.5 L614.2,135.3 L614.7,136.2 L615.2,137.1 L615.7,138.1 L616.2,139.2 L616.6,140.5 L617.0,141.9 L617.3,143.7 L617.6,145.9 L617.9,148.3 L618.1,150.8 L618.3,153.3 L618.4,155.6 L618.6,157.5 L618.7,158.8Z"/><path d="M605.8,187.4 L606.7,186.6 L608.0,185.6 L609.6,184.4 L611.4,183.0 L613.4,181.4 L615.4,179.8 L617.4,178.2 L619.4,176.6 L621.3,174.9 L623.3,173.1 L625.4,171.3 L627.4,169.4 L629.5,167.6 L631.5,165.7 L633.3,164.0 L635.1,162.3 L636.7,160.7 L638.1,159.2 L639.5,157.7 L640.7,156.3 L641.9,154.9 L643.1,153.7 L644.3,152.5 L645.5,151.4 L646.7,150.3 L648.0,149.3 L649.3,148.4 L650.5,147.5 L651.8,146.7 L653.0,145.9 L654.3,145.3 L655.4,144.7 L656.6,144.3 L657.9,144.0 L659.3,143.7 L660.6,143.6 L661.9,143.4 L663.0,143.4 L664.0,143.3 L664.7,143.2 L664.7,142.4 L664.0,142.4 L663.0,142.3 L661.8,142.3 L660.5,142.2 L659.1,142.2 L657.7,142.3 L656.2,142.5 L654.8,142.9 L653.4,143.3 L652.0,143.9 L650.6,144.6 L649.2,145.3 L647.8,146.1 L646.4,147.0 L644.9,148.0 L643.5,149.0 L642.1,150.1 L640.8,151.4 L639.5,152.7 L638.3,154.0 L637.0,155.4 L635.6,156.8 L634.2,158.1 L632.5,159.5 L630.7,160.9 L628.7,162.4 L626.5,163.9 L624.3,165.5 L622.1,167.0 L619.8,168.5 L617.6,169.8 L615.5,170.9 L613.5,171.9 L611.3,172.8 L609.0,173.6 L606.8,174.3 L604.7,175.0 L602.8,175.5 L601.1,176.1 L599.9,176.5Z"/><path d="M596.3,195.9 L597.4,195.6 L598.8,195.1 L600.5,194.6 L602.4,194.0 L604.3,193.3 L606.2,192.7 L608.0,192.2 L609.7,191.7 L611.3,191.3 L612.9,190.8 L614.5,190.4 L616.1,189.9 L617.6,189.6 L619.0,189.3 L620.5,189.1 L621.8,189.1 L623.1,189.2 L624.4,189.5 L625.6,189.9 L626.8,190.4 L628.1,190.9 L629.3,191.5 L630.5,192.1 L631.7,192.7 L632.8,193.3 L633.8,193.9 L634.9,194.5 L635.9,195.2 L636.9,195.8 L638.0,196.5 L639.2,197.1 L640.4,197.7 L641.6,198.2 L642.9,198.7 L644.2,199.3 L645.5,199.8 L646.9,200.2 L648.2,200.6 L649.6,200.8 L651.0,201.0 L652.4,201.0 L653.8,200.8 L655.2,200.6 L656.6,200.3 L657.9,200.0 L659.2,199.6 L660.4,199.2 L661.5,198.9 L662.6,198.5 L663.7,198.1 L664.7,197.7 L665.6,197.2 L666.5,196.8 L667.2,196.4 L667.9,196.1 L668.4,195.9 L668.0,195.1 L667.5,195.3 L666.8,195.6 L666.1,195.8 L665.2,196.2 L664.2,196.5 L663.2,196.8 L662.1,197.1 L661.1,197.3 L660.0,197.6 L658.8,197.8 L657.5,198.1 L656.2,198.3 L654.9,198.5 L653.6,198.7 L652.4,198.7 L651.2,198.6 L650.0,198.4 L648.8,198.1 L647.6,197.8 L646.4,197.3 L645.2,196.8 L644.0,196.2 L642.8,195.7 L641.6,195.1 L640.5,194.6 L639.5,194.0 L638.5,193.3 L637.5,192.7 L636.5,192.0 L635.4,191.3 L634.3,190.6 L633.1,189.9 L632.0,189.2 L630.8,188.6 L629.6,187.9 L628.3,187.3 L627.0,186.6 L625.6,186.0 L624.1,185.4 L622.6,184.9 L621.0,184.4 L619.3,184.0 L617.7,183.6 L615.9,183.3 L614.2,183.0 L612.4,182.7 L610.7,182.5 L608.9,182.3 L607.0,182.2 L604.8,182.1 L602.7,182.1 L600.5,182.1 L598.5,182.1 L596.7,182.1 L595.2,182.1 L594.1,182.1Z"/><path d="M639.5,194.8 L640.2,194.6 L641.3,194.3 L642.6,194.0 L643.9,193.6 L645.4,193.2 L646.9,192.8 L648.3,192.4 L649.6,192.0 L650.8,191.7 L652.1,191.4 L653.5,191.1 L654.8,190.8 L656.1,190.6 L657.2,190.3 L658.2,190.1 L658.9,190.0 L658.7,189.2 L658.0,189.3 L657.1,189.4 L655.9,189.6 L654.6,189.7 L653.3,189.9 L651.9,190.1 L650.5,190.3 L649.2,190.6 L647.9,190.8 L646.5,191.1 L645.0,191.4 L643.5,191.8 L642.1,192.1 L640.8,192.4 L639.7,192.6 L638.9,192.8Z"/><path d="M596.6,220.4 L597.2,220.5 L598.1,220.7 L599.0,220.9 L600.1,221.2 L601.3,221.4 L602.5,221.6 L603.7,221.9 L604.8,222.0 L605.9,222.2 L607.0,222.3 L608.1,222.4 L609.2,222.5 L610.3,222.6 L611.5,222.7 L612.6,222.7 L613.7,222.7 L614.8,222.7 L616.0,222.7 L617.3,222.6 L618.5,222.6 L619.7,222.5 L620.7,222.4 L621.6,222.3 L622.2,222.3 L622.2,221.5 L621.5,221.5 L620.7,221.4 L619.6,221.4 L618.5,221.4 L617.3,221.3 L616.0,221.2 L614.9,221.2 L613.7,221.1 L612.7,221.0 L611.6,220.9 L610.5,220.8 L609.4,220.6 L608.3,220.5 L607.3,220.3 L606.2,220.2 L605.2,220.0 L604.1,219.7 L603.0,219.4 L601.9,219.1 L600.8,218.7 L599.7,218.4 L598.8,218.1 L598.0,217.8 L597.4,217.6Z"/><path d="M597.7,225.5 L598.5,225.6 L599.5,225.8 L600.7,226.0 L602.1,226.2 L603.5,226.4 L605.0,226.6 L606.4,226.9 L607.7,227.2 L609.0,227.4 L610.2,227.7 L611.5,227.9 L612.7,228.2 L614.0,228.5 L615.4,228.8 L616.9,229.2 L618.5,229.6 L620.5,230.1 L622.8,230.7 L625.3,231.4 L627.8,232.0 L630.2,232.7 L632.5,233.3 L634.3,233.8 L635.7,234.2 L635.9,233.4 L634.6,233.0 L632.7,232.3 L630.6,231.6 L628.2,230.8 L625.7,230.0 L623.2,229.1 L621.0,228.4 L619.1,227.8 L617.4,227.3 L615.9,226.9 L614.5,226.5 L613.2,226.1 L612.0,225.8 L610.8,225.5 L609.5,225.2 L608.3,224.8 L606.9,224.5 L605.5,224.2 L604.0,223.8 L602.6,223.5 L601.3,223.2 L600.1,222.9 L599.1,222.7 L598.3,222.5Z"/><path d="M581.4,214.6 L582.1,215.5 L583.1,216.7 L584.2,218.1 L585.5,219.7 L586.9,221.4 L588.3,223.1 L589.7,224.8 L591.1,226.2 L592.4,227.5 L593.7,228.7 L595.0,229.9 L596.4,231.1 L597.8,232.3 L599.2,233.4 L600.8,234.6 L602.4,235.9 L604.1,237.1 L605.9,238.5 L607.7,239.8 L609.6,241.2 L611.6,242.6 L613.7,243.9 L615.8,245.2 L618.0,246.5 L620.3,247.6 L622.7,248.7 L625.2,249.8 L627.7,250.8 L630.3,251.8 L632.8,252.8 L635.2,253.7 L637.6,254.6 L639.9,255.5 L642.2,256.3 L644.4,257.0 L646.6,257.7 L648.7,258.4 L650.8,259.1 L652.8,259.9 L654.7,260.7 L656.5,261.5 L658.3,262.4 L660.0,263.3 L661.7,264.2 L663.3,265.1 L664.8,266.0 L666.2,266.9 L667.4,267.7 L668.6,268.5 L669.6,269.4 L670.6,270.3 L671.5,271.1 L672.3,271.9 L672.9,272.7 L673.5,273.3 L674.0,273.8 L674.6,273.2 L674.2,272.7 L673.7,272.1 L673.0,271.3 L672.3,270.4 L671.5,269.4 L670.6,268.4 L669.5,267.4 L668.4,266.5 L667.1,265.6 L665.7,264.6 L664.2,263.6 L662.6,262.6 L660.9,261.6 L659.2,260.6 L657.4,259.7 L655.5,258.7 L653.6,257.8 L651.6,257.0 L649.5,256.2 L647.4,255.4 L645.2,254.6 L643.1,253.8 L640.8,252.9 L638.6,252.0 L636.3,251.0 L633.9,250.0 L631.5,248.9 L629.0,247.8 L626.6,246.7 L624.2,245.5 L621.9,244.3 L619.8,243.1 L617.8,241.9 L615.8,240.6 L613.9,239.3 L612.0,237.9 L610.2,236.6 L608.5,235.2 L607.0,233.7 L605.6,232.3 L604.4,230.9 L603.4,229.5 L602.5,228.1 L601.7,226.7 L601.0,225.3 L600.3,223.8 L599.6,222.3 L598.9,220.8 L598.1,219.2 L597.4,217.4 L596.6,215.5 L595.8,213.6 L595.1,211.8 L594.5,210.1 L593.9,208.6 L593.5,207.5Z"/><path d="M637.1,255.0 L637.6,255.8 L638.2,256.7 L639.0,257.7 L639.8,258.8 L640.6,260.1 L641.3,261.4 L641.9,262.8 L642.4,264.1 L642.6,265.6 L642.7,267.3 L642.7,269.2 L642.7,271.1 L642.6,273.1 L642.5,275.1 L642.4,277.0 L642.5,278.8 L642.5,280.5 L642.6,282.2 L642.6,283.8 L642.7,285.4 L642.8,287.0 L643.0,288.6 L643.3,290.2 L643.8,291.8 L644.4,293.5 L645.1,295.2 L645.9,297.0 L646.8,298.7 L647.8,300.4 L648.7,302.0 L649.6,303.4 L650.4,304.7 L651.2,305.9 L652.0,306.9 L652.8,307.8 L653.6,308.7 L654.4,309.4 L655.0,310.0 L655.5,310.5 L655.9,310.9 L656.5,310.5 L656.1,310.0 L655.5,309.5 L654.9,308.8 L654.3,308.0 L653.6,307.2 L652.8,306.3 L652.1,305.2 L651.4,304.1 L650.6,302.8 L649.8,301.3 L648.9,299.8 L648.0,298.1 L647.2,296.4 L646.4,294.7 L645.7,293.0 L645.2,291.4 L644.9,289.9 L644.6,288.3 L644.5,286.8 L644.4,285.3 L644.4,283.7 L644.4,282.1 L644.4,280.5 L644.3,278.8 L644.3,277.0 L644.4,275.1 L644.5,273.2 L644.7,271.2 L644.8,269.2 L644.8,267.3 L644.7,265.4 L644.4,263.7 L644.0,262.0 L643.3,260.4 L642.5,259.0 L641.7,257.6 L640.9,256.4 L640.1,255.3 L639.5,254.4 L639.1,253.8Z"/><path d="M643.1,279.8 L643.9,280.1 L644.9,280.6 L646.2,281.1 L647.6,281.7 L649.2,282.3 L651.0,282.8 L652.9,283.4 L655.0,283.8 L657.4,284.1 L660.2,284.4 L663.3,284.7 L666.4,284.9 L669.5,285.1 L672.3,285.3 L674.7,285.4 L676.4,285.5 L676.4,284.9 L674.7,284.7 L672.4,284.5 L669.6,284.2 L666.5,283.9 L663.4,283.6 L660.3,283.2 L657.5,282.8 L655.2,282.4 L653.3,281.9 L651.5,281.4 L649.8,280.8 L648.2,280.2 L646.8,279.6 L645.6,279.0 L644.6,278.5 L643.7,278.2Z"/><path d="M575.5,210.8 L575.8,211.9 L576.3,213.5 L576.9,215.2 L577.5,217.2 L578.1,219.2 L578.6,221.3 L579.1,223.3 L579.4,225.2 L579.7,227.0 L579.8,228.8 L579.9,230.6 L579.9,232.5 L579.9,234.4 L579.9,236.4 L579.9,238.4 L579.9,240.4 L580.0,242.5 L580.0,244.6 L580.0,246.8 L580.1,249.0 L580.1,251.1 L580.1,253.3 L580.2,255.5 L580.2,257.6 L580.3,259.7 L580.3,261.9 L580.3,264.1 L580.3,266.2 L580.4,268.4 L580.4,270.5 L580.5,272.6 L580.6,274.6 L580.8,276.7 L581.0,278.9 L581.3,281.1 L581.5,283.2 L581.8,285.1 L582.1,286.9 L582.3,288.4 L582.4,289.5 L583.2,289.5 L583.2,288.3 L583.1,286.8 L583.0,285.0 L583.0,283.1 L582.9,280.9 L582.8,278.8 L582.8,276.6 L582.8,274.6 L582.8,272.6 L582.8,270.5 L582.9,268.4 L582.9,266.2 L583.0,264.1 L583.1,261.9 L583.1,259.8 L583.2,257.6 L583.2,255.4 L583.2,253.3 L583.2,251.1 L583.2,248.9 L583.2,246.8 L583.3,244.7 L583.4,242.6 L583.5,240.6 L583.7,238.6 L583.9,236.7 L584.2,234.8 L584.5,232.9 L584.8,231.0 L585.1,229.0 L585.4,227.1 L585.6,225.1 L585.8,222.9 L586.0,220.7 L586.1,218.4 L586.2,216.2 L586.4,214.1 L586.5,212.2 L586.6,210.7 L586.6,209.5Z"/><path d="M581.4,241.1 L582.1,242.1 L583.0,243.4 L584.2,244.9 L585.4,246.6 L586.6,248.4 L587.7,250.2 L588.7,252.0 L589.4,253.6 L589.9,255.2 L590.3,256.9 L590.5,258.7 L590.6,260.5 L590.7,262.2 L590.8,263.8 L590.8,265.1 L590.9,266.1 L591.7,266.1 L591.7,265.1 L591.7,263.8 L591.8,262.2 L591.8,260.5 L591.8,258.6 L591.7,256.7 L591.4,254.8 L591.0,253.0 L590.3,251.2 L589.3,249.4 L588.2,247.4 L587.0,245.6 L585.8,243.8 L584.7,242.2 L583.8,240.9 L583.2,239.9Z"/><path d="M580.9,263.5 L580.7,264.0 L580.4,264.7 L580.0,265.4 L579.6,266.3 L579.2,267.2 L578.8,268.1 L578.3,269.1 L577.9,270.0 L577.4,270.9 L576.9,272.0 L576.3,273.1 L575.8,274.2 L575.2,275.3 L574.7,276.2 L574.3,277.0 L574.0,277.6 L574.6,278.0 L575.0,277.4 L575.4,276.6 L576.0,275.7 L576.6,274.7 L577.3,273.6 L578.0,272.6 L578.6,271.6 L579.1,270.6 L579.6,269.7 L580.1,268.8 L580.6,267.9 L581.1,267.0 L581.5,266.1 L581.9,265.4 L582.2,264.8 L582.5,264.3Z"/><path d="M561.9,180.3 L560.7,180.2 L559.2,180.0 L557.5,179.8 L555.5,179.6 L553.5,179.3 L551.6,179.1 L549.7,178.8 L548.0,178.5 L546.5,178.2 L545.1,177.8 L543.7,177.5 L542.4,177.2 L541.1,176.8 L539.8,176.3 L538.6,175.8 L537.3,175.2 L536.0,174.4 L534.8,173.4 L533.5,172.2 L532.2,171.0 L530.8,169.8 L529.5,168.6 L528.0,167.4 L526.6,166.4 L525.2,165.6 L523.8,164.8 L522.4,164.2 L520.9,163.5 L519.5,163.0 L518.1,162.5 L516.7,162.1 L515.4,161.7 L514.0,161.5 L512.7,161.2 L511.4,161.1 L510.1,160.9 L508.8,160.9 L507.4,161.0 L506.0,161.1 L504.4,161.3 L502.6,161.6 L500.5,162.1 L498.3,162.8 L496.0,163.4 L493.9,164.1 L491.9,164.7 L490.3,165.3 L489.1,165.6 L489.3,166.4 L490.5,166.1 L492.2,165.6 L494.2,165.1 L496.3,164.6 L498.6,164.0 L500.8,163.5 L502.9,163.1 L504.6,162.9 L506.1,162.8 L507.5,162.8 L508.7,162.9 L509.9,163.1 L511.1,163.3 L512.2,163.5 L513.4,163.9 L514.6,164.3 L515.9,164.7 L517.2,165.2 L518.4,165.7 L519.7,166.3 L520.9,167.0 L522.2,167.7 L523.4,168.5 L524.6,169.4 L525.8,170.3 L527.0,171.4 L528.2,172.6 L529.5,173.8 L530.7,175.1 L532.0,176.4 L533.4,177.7 L534.7,178.8 L536.0,179.9 L537.3,180.9 L538.5,181.8 L539.8,182.6 L541.0,183.5 L542.3,184.3 L543.6,185.1 L545.0,186.0 L546.5,187.0 L548.2,188.1 L550.0,189.2 L551.8,190.3 L553.5,191.3 L555.1,192.2 L556.3,193.0 L557.3,193.5Z"/><path d="M527.3,167.9 L526.7,166.6 L525.8,164.8 L524.8,162.6 L523.7,160.2 L522.5,157.8 L521.3,155.4 L520.1,153.2 L518.9,151.4 L517.9,149.9 L516.8,148.7 L515.8,147.5 L514.8,146.6 L513.7,145.7 L512.7,144.9 L511.6,144.1 L510.5,143.3 L509.2,142.6 L507.9,141.8 L506.5,141.2 L505.1,140.6 L503.8,140.0 L502.6,139.6 L501.6,139.2 L500.9,138.8 L500.5,139.6 L501.2,139.9 L502.2,140.4 L503.3,141.0 L504.6,141.6 L505.9,142.3 L507.2,143.1 L508.4,143.9 L509.5,144.7 L510.5,145.5 L511.5,146.3 L512.5,147.1 L513.4,148.0 L514.3,148.9 L515.2,150.0 L516.1,151.2 L517.1,152.6 L518.0,154.3 L519.1,156.5 L520.2,158.8 L521.3,161.3 L522.4,163.7 L523.3,165.9 L524.1,167.7 L524.7,169.1Z"/><path d="M553.4,199.5 L552.5,200.2 L551.4,201.2 L550.1,202.3 L548.7,203.5 L547.3,204.6 L545.9,205.8 L544.7,206.7 L543.6,207.4 L542.6,208.0 L541.6,208.5 L540.8,208.8 L540.0,209.1 L539.2,209.3 L538.2,209.5 L537.0,209.6 L535.6,209.6 L533.9,209.5 L532.1,209.3 L530.0,209.1 L527.8,208.7 L525.6,208.3 L523.4,207.9 L521.3,207.5 L519.3,207.1 L517.4,206.7 L515.5,206.4 L513.7,206.1 L512.0,205.8 L510.3,205.4 L508.6,205.0 L507.0,204.5 L505.3,204.0 L503.5,203.3 L501.7,202.6 L499.9,201.9 L498.1,201.0 L496.4,200.2 L494.6,199.3 L492.9,198.4 L491.3,197.4 L489.7,196.5 L488.2,195.5 L486.7,194.4 L485.3,193.3 L483.8,192.2 L482.3,191.2 L480.8,190.3 L479.2,189.5 L477.5,188.8 L475.7,188.2 L473.8,187.7 L471.9,187.3 L470.1,186.9 L468.4,186.6 L467.1,186.3 L466.1,186.1 L465.9,186.7 L466.9,187.0 L468.3,187.3 L469.9,187.7 L471.7,188.1 L473.5,188.6 L475.4,189.2 L477.2,189.8 L478.8,190.5 L480.2,191.3 L481.6,192.3 L483.0,193.3 L484.4,194.5 L485.8,195.6 L487.3,196.8 L488.8,197.9 L490.3,199.0 L492.0,200.0 L493.7,201.0 L495.4,202.0 L497.2,203.0 L498.9,203.9 L500.7,204.8 L502.6,205.7 L504.3,206.4 L506.1,207.1 L507.9,207.6 L509.6,208.1 L511.4,208.6 L513.1,209.0 L514.9,209.4 L516.7,209.8 L518.5,210.3 L520.5,210.9 L522.6,211.5 L524.7,212.1 L526.9,212.7 L529.1,213.4 L531.2,213.9 L533.2,214.4 L535.0,214.8 L536.6,215.1 L538.0,215.3 L539.4,215.4 L540.7,215.5 L542.0,215.5 L543.3,215.5 L544.6,215.3 L546.1,215.2 L547.9,214.9 L549.8,214.5 L551.8,214.0 L553.8,213.5 L555.7,213.0 L557.4,212.6 L558.7,212.3 L559.7,212.0Z"/><path d="M509.2,206.6 L508.3,206.9 L507.1,207.3 L505.6,207.8 L504.0,208.3 L502.4,208.9 L500.7,209.4 L499.1,209.9 L497.6,210.4 L496.2,210.8 L494.7,211.2 L493.1,211.6 L491.7,211.9 L490.2,212.3 L489.0,212.6 L487.9,212.8 L487.1,213.0 L487.3,213.8 L488.1,213.7 L489.2,213.5 L490.5,213.3 L491.9,213.0 L493.4,212.8 L495.0,212.5 L496.5,212.2 L498.0,211.8 L499.5,211.5 L501.2,211.0 L502.9,210.6 L504.6,210.1 L506.2,209.6 L507.7,209.2 L508.9,208.9 L509.8,208.6Z"/><path d="M557.0,198.2 L556.1,199.0 L554.9,200.0 L553.6,201.2 L552.2,202.5 L550.7,203.8 L549.2,205.0 L547.7,206.1 L546.4,206.9 L545.3,207.6 L544.0,208.1 L542.7,208.5 L541.2,208.9 L539.6,209.3 L538.0,209.7 L536.3,210.2 L534.5,210.8 L532.7,211.5 L530.8,212.3 L528.9,213.1 L526.9,213.9 L525.0,214.8 L523.2,215.6 L521.6,216.4 L520.1,217.2 L518.8,217.9 L517.6,218.7 L516.5,219.5 L515.5,220.2 L514.7,220.9 L514.0,221.5 L513.4,221.9 L512.9,222.3 L515.5,225.7 L516.0,225.4 L516.6,224.9 L517.3,224.4 L518.1,223.8 L519.0,223.2 L520.0,222.6 L521.1,222.0 L522.3,221.4 L523.7,220.8 L525.3,220.0 L527.0,219.3 L528.9,218.5 L530.8,217.8 L532.6,217.1 L534.5,216.5 L536.1,216.0 L537.6,215.7 L539.1,215.5 L540.6,215.4 L542.1,215.3 L543.7,215.3 L545.5,215.1 L547.3,214.9 L549.2,214.6 L551.2,214.1 L553.3,213.6 L555.5,213.0 L557.5,212.3 L559.5,211.7 L561.2,211.2 L562.6,210.8 L563.7,210.5Z"/><path d="M513.8,222.4 L512.7,222.7 L511.2,223.2 L509.4,223.8 L507.5,224.4 L505.5,225.0 L503.5,225.5 L501.6,226.0 L499.9,226.3 L498.4,226.5 L496.9,226.7 L495.4,226.7 L493.9,226.8 L492.5,226.7 L491.1,226.7 L489.7,226.7 L488.4,226.7 L487.2,226.8 L485.9,226.8 L484.7,226.9 L483.6,226.9 L482.5,227.0 L481.6,227.0 L480.8,227.1 L480.2,227.1 L480.2,227.9 L480.8,227.9 L481.6,228.0 L482.5,228.0 L483.6,228.1 L484.7,228.1 L485.9,228.2 L487.2,228.2 L488.4,228.3 L489.7,228.3 L491.0,228.4 L492.4,228.6 L493.8,228.7 L495.4,228.8 L497.0,228.8 L498.6,228.8 L500.3,228.7 L502.1,228.4 L504.1,228.1 L506.2,227.6 L508.3,227.1 L510.2,226.7 L512.0,226.2 L513.5,225.9 L514.6,225.6Z"/><path d="M496.9,227.1 L496.5,227.5 L496.0,228.0 L495.3,228.6 L494.5,229.3 L493.8,230.0 L493.0,230.7 L492.2,231.3 L491.5,232.0 L490.9,232.6 L490.3,233.2 L489.6,233.8 L489.0,234.4 L488.4,234.9 L487.8,235.5 L487.2,236.0 L486.6,236.6 L486.0,237.1 L485.4,237.6 L484.8,238.1 L484.2,238.6 L483.7,239.1 L483.1,239.5 L482.7,239.9 L482.4,240.1 L482.8,240.7 L483.2,240.4 L483.6,240.1 L484.2,239.8 L484.8,239.3 L485.4,238.9 L486.1,238.4 L486.7,237.9 L487.4,237.4 L488.0,236.9 L488.6,236.4 L489.2,235.9 L489.9,235.3 L490.5,234.7 L491.2,234.2 L491.8,233.6 L492.5,233.0 L493.2,232.4 L494.0,231.8 L494.8,231.1 L495.6,230.5 L496.4,229.9 L497.0,229.3 L497.6,228.8 L498.1,228.5Z"/><path d="M512.5,223.8 L512.3,224.1 L512.1,224.4 L511.7,224.9 L511.3,225.4 L510.8,226.1 L510.3,226.9 L509.8,227.9 L509.2,229.1 L508.6,230.5 L507.9,232.1 L507.2,233.9 L506.4,235.8 L505.6,237.8 L504.9,239.8 L504.2,241.6 L503.5,243.4 L502.9,245.0 L502.4,246.6 L502.0,248.2 L501.6,249.7 L501.1,251.0 L500.6,252.4 L500.0,253.6 L499.2,254.9 L498.1,256.1 L496.9,257.4 L495.5,258.7 L494.0,260.0 L492.5,261.2 L490.9,262.3 L489.4,263.3 L488.0,264.2 L486.7,265.0 L485.2,265.7 L483.7,266.3 L482.3,266.8 L480.9,267.2 L479.7,267.6 L478.6,267.9 L477.8,268.2 L478.0,268.8 L478.8,268.6 L479.9,268.4 L481.1,268.1 L482.6,267.8 L484.1,267.4 L485.7,266.9 L487.3,266.3 L488.8,265.6 L490.3,264.7 L491.9,263.8 L493.5,262.7 L495.2,261.5 L496.8,260.3 L498.4,259.0 L499.8,257.7 L501.0,256.3 L502.1,254.9 L502.9,253.4 L503.5,251.9 L504.1,250.4 L504.5,249.0 L505.0,247.5 L505.5,246.0 L506.1,244.4 L506.8,242.7 L507.6,240.9 L508.4,238.9 L509.3,237.0 L510.1,235.1 L510.8,233.4 L511.6,231.8 L512.2,230.5 L512.7,229.5 L513.2,228.8 L513.7,228.1 L514.1,227.6 L514.5,227.2 L514.9,226.9 L515.2,226.5 L515.5,226.2Z"/><path d="M501.5,251.5 L500.8,251.5 L499.8,251.5 L498.6,251.5 L497.3,251.5 L495.9,251.5 L494.5,251.5 L493.2,251.5 L492.0,251.5 L491.0,251.5 L490.0,251.5 L489.0,251.5 L488.1,251.5 L487.1,251.5 L486.1,251.5 L485.0,251.5 L483.7,251.5 L482.2,251.5 L480.5,251.5 L478.7,251.6 L476.8,251.6 L475.0,251.7 L473.3,251.7 L471.9,251.7 L470.9,251.8 L470.9,252.4 L471.9,252.5 L473.3,252.5 L475.0,252.5 L476.8,252.6 L478.7,252.6 L480.5,252.7 L482.2,252.7 L483.7,252.7 L484.9,252.8 L486.0,252.8 L487.1,252.9 L488.0,252.9 L489.0,252.9 L489.9,253.0 L490.9,253.0 L492.0,253.1 L493.2,253.1 L494.5,253.2 L495.9,253.2 L497.3,253.3 L498.6,253.4 L499.7,253.4 L500.7,253.5 L501.5,253.5Z"/><path d="M511.1,225.6 L511.1,226.0 L511.0,226.5 L510.9,227.0 L510.8,227.6 L510.7,228.3 L510.5,229.3 L510.3,230.4 L510.1,231.9 L509.7,233.6 L509.3,235.8 L508.9,238.2 L508.4,240.7 L507.9,243.4 L507.5,246.0 L507.1,248.4 L506.8,250.7 L506.5,252.7 L506.4,254.6 L506.3,256.5 L506.2,258.2 L506.1,259.9 L506.1,261.6 L506.0,263.2 L505.9,264.8 L505.8,266.4 L505.8,268.0 L505.9,269.5 L505.9,270.9 L505.9,272.3 L505.7,273.6 L505.5,275.0 L505.1,276.3 L504.5,277.8 L503.7,279.3 L502.8,280.9 L501.8,282.5 L500.7,284.0 L499.6,285.5 L498.5,286.8 L497.4,287.9 L496.2,288.8 L494.8,289.6 L493.3,290.3 L491.8,291.0 L490.4,291.5 L489.0,292.0 L487.9,292.3 L487.1,292.7 L487.3,293.3 L488.2,293.0 L489.3,292.7 L490.6,292.4 L492.2,291.9 L493.7,291.4 L495.3,290.7 L496.9,289.9 L498.2,288.9 L499.5,287.8 L500.8,286.5 L502.0,285.0 L503.2,283.5 L504.3,281.9 L505.3,280.3 L506.2,278.6 L506.9,277.1 L507.5,275.5 L507.9,274.0 L508.1,272.5 L508.2,271.0 L508.3,269.5 L508.3,268.0 L508.4,266.5 L508.5,265.0 L508.7,263.4 L508.8,261.7 L508.9,260.1 L509.0,258.4 L509.2,256.7 L509.3,254.9 L509.5,253.1 L509.8,251.1 L510.2,249.0 L510.6,246.5 L511.1,244.0 L511.7,241.4 L512.2,238.8 L512.7,236.4 L513.2,234.3 L513.5,232.5 L513.8,231.1 L514.1,230.0 L514.3,229.0 L514.4,228.3 L514.6,227.7 L514.7,227.2 L514.8,226.8 L514.9,226.4Z"/><path d="M506.8,277.5 L507.5,277.9 L508.5,278.4 L509.7,279.1 L511.0,279.8 L512.4,280.6 L513.7,281.4 L514.9,282.2 L516.0,283.0 L517.1,283.9 L518.1,285.0 L519.2,286.1 L520.2,287.3 L521.1,288.4 L522.0,289.4 L522.7,290.3 L523.2,290.9 L523.8,290.5 L523.3,289.8 L522.6,288.9 L521.8,287.8 L521.0,286.6 L520.0,285.4 L519.0,284.2 L518.0,283.0 L517.0,282.0 L515.8,281.0 L514.5,280.1 L513.2,279.2 L511.8,278.4 L510.5,277.6 L509.3,276.9 L508.4,276.4 L507.6,275.9Z"/><path d="M513.6,225.2 L514.0,225.7 L516.5,225.3 L515.2,225.9 L513.8,225.3 L513.8,225.3 L514.0,225.5 L514.4,226.2 L514.9,227.2 L515.8,228.7 L516.9,230.6 L518.2,232.8 L519.6,235.2 L521.0,237.7 L522.4,240.1 L523.5,242.4 L524.5,244.5 L525.2,246.3 L525.8,248.0 L526.3,249.7 L526.8,251.3 L527.1,252.9 L527.5,254.6 L527.8,256.3 L528.1,258.1 L528.4,260.0 L528.6,261.9 L528.7,263.8 L528.9,265.9 L529.0,267.9 L529.1,270.0 L529.4,272.2 L529.7,274.4 L530.1,276.8 L530.6,279.4 L531.2,282.1 L531.8,284.8 L532.4,287.4 L533.0,289.7 L533.4,291.6 L533.8,293.1 L534.4,292.9 L534.2,291.5 L533.9,289.5 L533.5,287.2 L533.0,284.6 L532.6,281.8 L532.2,279.1 L531.8,276.5 L531.5,274.2 L531.3,272.0 L531.2,269.9 L531.2,267.8 L531.1,265.8 L531.1,263.7 L531.0,261.7 L530.9,259.7 L530.7,257.7 L530.4,255.8 L530.2,254.1 L529.9,252.4 L529.6,250.7 L529.1,248.9 L528.7,247.1 L528.1,245.3 L527.3,243.3 L526.4,241.1 L525.2,238.7 L523.9,236.1 L522.5,233.6 L521.2,231.1 L519.9,228.9 L518.9,226.9 L518.1,225.4 L517.5,224.4 L517.1,223.7 L516.8,223.2 L516.5,222.8 L515.0,222.2 L513.7,222.8 L516.1,222.5 L516.4,222.8Z"/><path d="M527.6,249.4 L528.3,249.9 L529.3,250.6 L530.5,251.4 L531.8,252.3 L533.2,253.3 L534.6,254.3 L535.9,255.2 L537.1,256.2 L538.3,257.1 L539.5,258.2 L540.7,259.4 L541.9,260.5 L543.0,261.6 L544.1,262.6 L544.9,263.4 L545.6,264.0 L546.0,263.6 L545.4,262.9 L544.7,262.0 L543.7,261.0 L542.7,259.8 L541.5,258.5 L540.4,257.3 L539.2,256.1 L538.1,255.0 L536.9,254.0 L535.6,252.9 L534.3,251.8 L532.9,250.8 L531.7,249.8 L530.5,248.9 L529.5,248.2 L528.8,247.6Z"/><path d="M522.6,240.2 L522.4,241.0 L522.3,242.1 L522.1,243.4 L521.9,244.8 L521.6,246.3 L521.3,247.8 L520.9,249.3 L520.5,250.6 L520.0,252.0 L519.3,253.5 L518.5,255.0 L517.7,256.5 L516.9,258.0 L516.2,259.3 L515.6,260.4 L515.1,261.2 L515.7,261.6 L516.2,260.8 L516.9,259.7 L517.7,258.5 L518.6,257.1 L519.6,255.6 L520.4,254.1 L521.3,252.6 L521.9,251.2 L522.4,249.7 L522.9,248.2 L523.3,246.7 L523.6,245.2 L523.8,243.7 L524.1,242.4 L524.3,241.4 L524.4,240.6Z"/></g>
<ellipse cx="578" cy="192.6" rx="33.5" ry="31" fill="url(#gDc)"/>
<circle cx="580.5" cy="191.4" r="14.6" fill="url(#gDcNuc)"/>
<path d="M571.5,182 q9,-7 18,0" fill="none" stroke="#f8d8a0" stroke-width="1.2" opacity="0.7"/>
<g fill="none" stroke="#ffffff" stroke-width="1.6" opacity="0.45"><circle cx="383" cy="111.6" r="16"/><circle cx="383" cy="111.6" r="10.5"/><circle cx="384" cy="111.6" r="5.5"/></g>
<text class="t" x="393" y="34">Monocyte</text>
<text class="t" x="50" y="300.8">Osteoclast</text>
<text class="t" x="284" y="454.5">Macrophage</text>
<text class="t" x="530.5" y="326">Dendric cell</text>
</svg>
</body></html>
